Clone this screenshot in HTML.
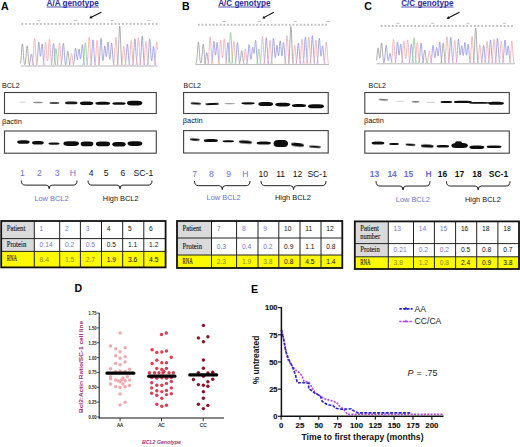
<!DOCTYPE html>
<html><head><meta charset="utf-8"><title>Figure</title>
<style>html,body{margin:0;padding:0;background:#fff;width:520px;height:447px;overflow:hidden}svg{display:block}</style>
</head><body>
<svg width="520" height="447" viewBox="0 0 520 447"><defs><filter id="bl" x="-20%" y="-100%" width="140%" height="300%"><feGaussianBlur stdDeviation="0.45"/></filter></defs><text x="1.0" y="9.6" font-size="10.6" fill="#000" font-weight="bold" text-anchor="start" font-family='"Liberation Sans", sans-serif'  >A</text>
<text x="182.0" y="9.6" font-size="10.6" fill="#000" font-weight="bold" text-anchor="start" font-family='"Liberation Sans", sans-serif'  >B</text>
<text x="364.3" y="9.6" font-size="10.6" fill="#000" font-weight="bold" text-anchor="start" font-family='"Liberation Sans", sans-serif'  >C</text>
<text x="74.4" y="292.4" font-size="10.6" fill="#000" font-weight="bold" text-anchor="start" font-family='"Liberation Sans", sans-serif'  >D</text>
<text x="251.0" y="292.5" font-size="10.6" fill="#000" font-weight="bold" text-anchor="start" font-family='"Liberation Sans", sans-serif'  >E</text>
<text x="46.6" y="6.1" font-size="8.25" fill="#2c2ca0" font-weight="bold" text-anchor="start" font-family='"Liberation Sans", sans-serif'  textLength="52.2" lengthAdjust="spacingAndGlyphs">A/A genotype</text>
<rect x="46.6" y="6.6" width="52.3" height="0.8" fill="#2c2ca0"/>
<text x="218.2" y="6.1" font-size="8.25" fill="#2c2ca0" font-weight="bold" text-anchor="start" font-family='"Liberation Sans", sans-serif'  textLength="52.2" lengthAdjust="spacingAndGlyphs">A/C genotype</text>
<rect x="218.2" y="6.6" width="52.3" height="0.8" fill="#2c2ca0"/>
<text x="401.2" y="6.1" font-size="8.25" fill="#2c2ca0" font-weight="bold" text-anchor="start" font-family='"Liberation Sans", sans-serif'  textLength="52.2" lengthAdjust="spacingAndGlyphs">C/C genotype</text>
<rect x="401.2" y="6.6" width="52.3" height="0.8" fill="#2c2ca0"/>
<line x1="101.3" y1="12.2" x2="91.26" y2="17.30" stroke="#111" stroke-width="1.1"/>
<polygon points="89.3,18.3 91.00,15.59 92.49,18.53" fill="#111"/>
<line x1="273.8" y1="12.2" x2="264.24" y2="17.36" stroke="#111" stroke-width="1.1"/>
<polygon points="262.3,18.4 263.93,15.65 265.50,18.55" fill="#111"/>
<line x1="459.5" y1="12.3" x2="448.56" y2="17.81" stroke="#111" stroke-width="1.1"/>
<polygon points="446.6,18.8 448.31,16.09 449.79,19.04" fill="#111"/>
<line x1="20.5" y1="66.0" x2="157.5" y2="66.0" stroke="#9a9a9a" stroke-width="0.7"/>
<polyline points="29.10,65.35 29.30,65.02 29.50,64.53 29.70,63.82 29.90,62.86 30.10,61.64 30.30,60.21 30.50,58.64 30.70,57.08 30.90,55.69 31.10,54.64 31.30,54.07 31.50,54.07 31.70,54.64 31.90,55.69 32.10,57.08 32.30,58.64 32.50,60.21 32.70,61.64 32.90,62.86 33.10,63.82 33.30,64.53 33.50,65.02 33.70,65.35" fill="none" stroke="#9292de" stroke-width="0.8" stroke-linejoin="round"/>
<polyline points="36.30,65.30 36.50,64.89 36.70,64.24 36.90,63.24 37.10,61.80 37.30,59.87 37.50,57.41 37.70,54.52 37.90,51.36 38.10,48.21 38.30,45.40 38.50,43.27 38.70,42.12 38.90,42.09 39.10,43.16 39.30,45.16 39.50,47.75 39.70,50.52 39.90,53.08 40.10,55.05 40.30,56.17 40.50,56.32 40.70,55.49 40.90,53.81 41.10,51.55 41.30,49.04 41.50,46.68 41.70,44.86 41.90,43.87 42.10,43.91 42.30,44.98 42.50,46.94 42.70,49.54 42.90,52.46 43.10,55.38 43.30,58.05 43.50,60.31 43.70,62.10 43.90,63.43 44.10,64.35 44.30,64.96 44.50,65.34" fill="none" stroke="#9292de" stroke-width="0.8" stroke-linejoin="round"/>
<polyline points="51.10,65.16 51.30,64.67 51.50,63.90 51.70,62.77 51.90,61.19 52.10,59.12 52.30,56.59 52.50,53.72 52.70,50.71 52.90,47.86 53.10,45.51 53.30,43.95 53.50,43.40 53.70,43.95 53.90,45.51 54.10,47.86 54.30,50.71 54.50,53.72 54.70,56.59 54.90,59.12 55.10,61.19 55.30,62.77 55.50,63.90 55.70,64.67 55.90,65.16" fill="none" stroke="#9292de" stroke-width="0.8" stroke-linejoin="round"/>
<polyline points="60.90,65.33 61.10,64.94 61.30,64.33 61.50,63.39 61.70,62.04 61.90,60.21 62.10,57.91 62.30,55.19 62.50,52.21 62.70,49.25 62.90,46.60 63.10,44.61 63.30,43.54 63.50,43.54 63.70,44.61 63.90,46.60 64.10,49.25 64.30,52.21 64.50,55.19 64.70,57.91 64.90,60.21 65.10,62.04 65.30,63.39 65.50,64.33 65.70,64.94 65.90,65.33" fill="none" stroke="#9292de" stroke-width="0.8" stroke-linejoin="round"/>
<polyline points="73.30,65.12 73.50,64.62 73.70,63.87 73.90,62.79 74.10,61.34 74.30,59.49 74.50,57.32 74.70,54.94 74.90,52.57 75.10,50.46 75.30,48.86 75.50,48.00 75.70,47.99 75.90,48.82 76.10,50.37 76.30,52.39 76.50,54.59 76.70,56.68 76.90,58.39 77.10,59.53 77.30,59.97 77.50,59.68 77.70,58.70 77.90,57.16 78.10,55.23 78.30,53.19 78.50,51.30 78.70,49.85 78.90,49.07 79.10,49.06 79.30,49.82 79.50,51.23 79.70,53.06 79.90,55.01 80.10,56.78 80.30,58.09 80.50,58.76 80.70,58.63 80.90,57.70 81.10,56.02 81.30,53.78 81.50,51.23 81.70,48.72 81.90,46.59 82.10,45.17 82.30,44.68 82.50,45.21 82.70,46.68 82.90,48.90 83.10,51.59 83.30,54.42 83.50,57.13 83.70,59.51 83.90,61.45 84.10,62.94 84.30,64.01 84.50,64.74 84.70,65.20" fill="none" stroke="#9292de" stroke-width="0.8" stroke-linejoin="round"/>
<polyline points="90.50,65.25 90.70,64.81 90.90,64.10 91.10,63.01 91.30,61.45 91.50,59.34 91.70,56.67 91.90,53.53 92.10,50.09 92.30,46.66 92.50,43.60 92.70,41.30 92.90,40.06 93.10,40.06 93.30,41.30 93.50,43.60 93.70,46.66 93.90,50.09 94.10,53.53 94.30,56.67 94.50,59.34 94.70,61.45 94.90,63.01 95.10,64.10 95.30,64.81 95.50,65.25" fill="none" stroke="#9292de" stroke-width="0.8" stroke-linejoin="round"/>
<polyline points="98.50,65.22 98.70,64.75 98.90,63.99 99.10,62.84 99.30,61.18 99.50,58.94 99.70,56.11 99.90,52.77 100.10,49.12 100.30,45.48 100.50,42.23 100.70,39.79 100.90,38.47 101.10,38.46 101.30,39.78 101.50,42.21 101.70,45.42 101.90,49.01 102.10,52.55 102.30,55.69 102.50,58.18 102.70,59.87 102.90,60.68 103.10,60.63 103.30,59.76 103.50,58.17 103.70,56.02 103.90,53.52 104.10,50.95 104.30,48.62 104.50,46.85 104.70,45.89 104.90,45.86 105.10,46.75 105.30,48.40 105.50,50.52 105.70,52.76 105.90,54.76 106.10,56.19 106.30,56.82 106.50,56.51 106.70,55.26 106.90,53.21 107.10,50.60 107.30,47.79 107.50,45.18 107.70,43.17 107.90,42.09 108.10,42.11 108.30,43.25 108.50,45.34 108.70,48.08 108.90,51.11 109.10,54.04 109.30,56.54 109.50,58.37 109.70,59.35 109.90,59.41 110.10,58.55 110.30,56.86 110.50,54.49 110.70,51.71 110.90,48.82 111.10,46.20 111.30,44.20 111.50,43.13 111.70,43.14 111.90,44.23 112.10,46.26 112.30,48.95 112.50,51.97 112.70,55.00 112.90,57.77 113.10,60.11 113.30,61.97 113.50,63.34 113.70,64.30 113.90,64.93 114.10,65.32" fill="none" stroke="#9292de" stroke-width="0.8" stroke-linejoin="round"/>
<polyline points="124.90,65.34 125.10,64.97 125.30,64.37 125.50,63.46 125.70,62.15 125.90,60.39 126.10,58.15 126.30,55.52 126.50,52.64 126.70,49.76 126.90,47.20 127.10,45.27 127.30,44.23 127.50,44.23 127.70,45.27 127.90,47.20 128.10,49.76 128.30,52.64 128.50,55.52 128.70,58.15 128.90,60.39 129.10,62.15 129.30,63.46 129.50,64.37 129.70,64.97 129.90,65.34" fill="none" stroke="#9292de" stroke-width="0.8" stroke-linejoin="round"/>
<polyline points="132.30,65.38 132.50,65.03 132.70,64.44 132.90,63.51 133.10,62.15 133.30,60.24 133.50,57.75 133.70,54.70 133.90,51.24 134.10,47.61 134.30,44.18 134.50,41.34 134.70,39.46 134.90,38.80 135.10,39.46 135.30,41.34 135.50,44.18 135.70,47.61 135.90,51.24 136.10,54.70 136.30,57.75 136.50,60.24 136.70,62.15 136.90,63.51 137.10,64.44 137.30,65.03 137.50,65.38" fill="none" stroke="#9292de" stroke-width="0.8" stroke-linejoin="round"/>
<polyline points="139.70,65.17 139.90,64.67 140.10,63.85 140.30,62.60 140.50,60.81 140.70,58.39 140.90,55.34 141.10,51.73 141.30,47.79 141.50,43.85 141.70,40.35 141.90,37.71 142.10,36.28 142.30,36.28 142.50,37.71 142.70,40.35 142.90,43.85 143.10,47.79 143.30,51.73 143.50,55.34 143.70,58.39 143.90,60.81 144.10,62.60 144.30,63.85 144.50,64.67 144.70,65.17" fill="none" stroke="#9292de" stroke-width="0.8" stroke-linejoin="round"/>
<polyline points="147.10,65.38 147.30,65.03 147.50,64.44 147.70,63.51 147.90,62.15 148.10,60.24 148.30,57.75 148.50,54.70 148.70,51.24 148.90,47.61 149.10,44.18 149.30,41.34 149.50,39.46 149.70,38.80 149.90,39.45 150.10,41.32 150.30,44.15 150.50,47.54 150.70,51.08 150.90,54.40 151.10,57.19 151.30,59.26 151.50,60.50 151.70,60.88 151.90,60.42 152.10,59.21 152.30,57.37 152.50,55.07 152.70,52.56 152.90,50.14 153.10,48.11 153.30,46.77 153.50,46.30 153.70,46.77 153.90,48.13 154.10,50.19 154.30,52.66 154.50,55.28 154.70,57.78 154.90,59.98 155.10,61.78 155.30,63.16 155.50,64.15 155.70,64.82 155.90,65.24" fill="none" stroke="#9292de" stroke-width="0.8" stroke-linejoin="round"/>
<polyline points="32.10,65.22 32.30,64.75 32.50,63.99 32.70,62.84 32.90,61.18 33.10,58.94 33.30,56.11 33.50,52.77 33.70,49.12 33.90,45.48 34.10,42.23 34.30,39.79 34.50,38.47 34.70,38.47 34.90,39.79 35.10,42.23 35.30,45.48 35.50,49.12 35.70,52.77 35.90,56.11 36.10,58.94 36.30,61.18 36.50,62.84 36.70,63.99 36.90,64.75 37.10,65.22" fill="none" stroke="#eeaaae" stroke-width="0.8" stroke-linejoin="round"/>
<polyline points="43.10,65.12 43.30,64.60 43.50,63.79 43.70,62.58 43.90,60.90 44.10,58.70 44.30,56.02 44.50,52.96 44.70,49.77 44.90,46.74 45.10,44.24 45.30,42.58 45.50,42.00 45.70,42.57 45.90,44.22 46.10,46.71 46.30,49.70 46.50,52.81 46.70,55.72 46.90,58.14 47.10,59.88 47.30,60.83 47.50,60.92 47.70,60.13 47.90,58.49 48.10,56.06 48.30,53.01 48.50,49.57 48.70,46.10 48.90,42.98 49.10,40.63 49.30,39.36 49.50,39.36 49.70,40.64 49.90,43.00 50.10,46.14 50.30,49.67 50.50,53.20 50.70,56.43 50.90,59.17 51.10,61.33 51.30,62.94 51.50,64.05 51.70,64.78 51.90,65.24" fill="none" stroke="#eeaaae" stroke-width="0.8" stroke-linejoin="round"/>
<polyline points="57.10,65.15 57.30,64.65 57.50,63.87 57.70,62.71 57.90,61.10 58.10,59.00 58.30,56.43 58.50,53.50 58.70,50.44 58.90,47.54 59.10,45.14 59.30,43.56 59.50,43.00 59.70,43.56 59.90,45.14 60.10,47.54 60.30,50.44 60.50,53.50 60.70,56.43 60.90,59.00 61.10,61.10 61.30,62.71 61.50,63.87 61.70,64.65 61.90,65.15" fill="none" stroke="#eeaaae" stroke-width="0.8" stroke-linejoin="round"/>
<polyline points="69.30,65.17 69.50,64.74 69.70,64.11 69.90,63.23 70.10,62.07 70.30,60.66 70.50,59.06 70.70,57.38 70.90,55.79 71.10,54.48 71.30,53.60 71.50,53.30 71.70,53.60 71.90,54.48 72.10,55.79 72.30,57.38 72.50,59.06 72.70,60.66 72.90,62.07 73.10,63.23 73.30,64.11 73.50,64.74 73.70,65.17" fill="none" stroke="#eeaaae" stroke-width="0.8" stroke-linejoin="round"/>
<polyline points="86.70,65.20 86.90,64.71 87.10,63.92 87.30,62.72 87.50,61.00 87.70,58.67 87.90,55.72 88.10,52.25 88.30,48.45 88.50,44.66 88.70,41.29 88.90,38.75 89.10,37.38 89.30,37.38 89.50,38.75 89.70,41.29 89.90,44.66 90.10,48.45 90.30,52.25 90.50,55.72 90.70,58.67 90.90,61.00 91.10,62.72 91.30,63.92 91.50,64.71 91.70,65.20" fill="none" stroke="#eeaaae" stroke-width="0.8" stroke-linejoin="round"/>
<polyline points="94.70,65.07 94.90,64.52 95.10,63.65 95.30,62.36 95.50,60.57 95.70,58.22 95.90,55.36 96.10,52.10 96.30,48.69 96.50,45.46 96.70,42.79 96.90,41.02 97.10,40.40 97.30,41.02 97.50,42.79 97.70,45.46 97.90,48.69 98.10,52.10 98.30,55.36 98.50,58.22 98.70,60.57 98.90,62.36 99.10,63.65 99.30,64.52 99.50,65.07" fill="none" stroke="#eeaaae" stroke-width="0.8" stroke-linejoin="round"/>
<polyline points="113.30,65.36 113.50,64.98 113.70,64.36 113.90,63.38 114.10,61.93 114.30,59.91 114.50,57.27 114.70,54.04 114.90,50.37 115.10,46.53 115.30,42.90 115.50,39.89 115.70,37.90 115.90,37.20 116.10,37.90 116.30,39.89 116.50,42.90 116.70,46.53 116.90,50.37 117.10,54.04 117.30,57.27 117.50,59.91 117.70,61.93 117.90,63.38 118.10,64.36 118.30,64.98 118.50,65.36" fill="none" stroke="#eeaaae" stroke-width="0.8" stroke-linejoin="round"/>
<polyline points="121.30,65.24 121.50,64.82 121.70,64.15 121.90,63.16 122.10,61.78 122.30,59.98 122.50,57.78 122.70,55.28 122.90,52.66 123.10,50.19 123.30,48.13 123.50,46.78 123.70,46.30 123.90,46.78 124.10,48.13 124.30,50.19 124.50,52.66 124.70,55.28 124.90,57.78 125.10,59.98 125.30,61.78 125.50,63.16 125.70,64.15 125.90,64.82 126.10,65.24" fill="none" stroke="#eeaaae" stroke-width="0.8" stroke-linejoin="round"/>
<polyline points="128.70,65.26 128.90,64.83 129.10,64.13 129.30,63.06 129.50,61.53 129.70,59.47 129.90,56.85 130.10,53.76 130.30,50.39 130.50,47.03 130.70,44.03 130.90,41.77 131.10,40.56 131.30,40.56 131.50,41.77 131.70,44.03 131.90,47.03 132.10,50.39 132.30,53.76 132.50,56.85 132.70,59.47 132.90,61.53 133.10,63.06 133.30,64.13 133.50,64.83 133.70,65.26" fill="none" stroke="#eeaaae" stroke-width="0.8" stroke-linejoin="round"/>
<polyline points="135.90,65.21 136.10,64.73 136.30,63.95 136.50,62.77 136.70,61.08 136.90,58.79 137.10,55.90 137.30,52.49 137.50,48.76 137.70,45.03 137.90,41.72 138.10,39.22 138.30,37.87 138.50,37.87 138.70,39.22 138.90,41.72 139.10,45.03 139.30,48.76 139.50,52.49 139.70,55.90 139.90,58.79 140.10,61.08 140.30,62.77 140.50,63.95 140.70,64.73 140.90,65.21" fill="none" stroke="#eeaaae" stroke-width="0.8" stroke-linejoin="round"/>
<polyline points="143.50,65.11 143.70,64.58 143.90,63.74 144.10,62.51 144.30,60.80 144.50,58.55 144.70,55.81 144.90,52.69 145.10,49.43 145.30,46.34 145.50,43.79 145.70,42.09 145.90,41.50 146.10,42.09 146.30,43.79 146.50,46.34 146.70,49.43 146.90,52.69 147.10,55.81 147.30,58.55 147.50,60.80 147.70,62.51 147.90,63.74 148.10,64.58 148.30,65.11" fill="none" stroke="#eeaaae" stroke-width="0.8" stroke-linejoin="round"/>
<polyline points="154.30,65.12 154.50,64.60 154.70,63.79 154.90,62.58 155.10,60.90 155.30,58.70 155.50,56.02 155.70,52.96 155.90,49.77 156.10,46.74 156.30,44.24 156.50,42.58 156.70,42.00 156.90,42.58 157.10,44.24 157.30,46.74 157.50,49.77" fill="none" stroke="#eeaaae" stroke-width="0.8" stroke-linejoin="round"/>
<polyline points="53.50,65.31 53.70,64.93 53.90,64.34 54.10,63.46 54.30,62.24 54.50,60.64 54.70,58.69 54.90,56.47 55.10,54.15 55.30,51.95 55.50,50.13 55.70,48.92 55.90,48.50 56.10,48.92 56.30,50.13 56.50,51.95 56.70,54.15 56.90,56.47 57.10,58.69 57.30,60.64 57.50,62.24 57.70,63.46 57.90,64.34 58.10,64.93 58.30,65.31" fill="none" stroke="#8acb8a" stroke-width="0.8" stroke-linejoin="round"/>
<polyline points="82.90,65.14 83.10,64.63 83.30,63.84 83.50,62.66 83.70,61.02 83.90,58.88 84.10,56.26 84.30,53.29 84.50,50.17 84.70,47.22 84.90,44.78 85.10,43.17 85.30,42.60 85.50,43.17 85.70,44.78 85.90,47.22 86.10,50.17 86.30,53.29 86.50,56.26 86.70,58.88 86.90,61.02 87.10,62.66 87.30,63.84 87.50,64.63 87.70,65.14" fill="none" stroke="#8acb8a" stroke-width="0.8" stroke-linejoin="round"/>
<polyline points="20.50,63.43 20.70,62.10 20.90,60.31 21.10,58.05 21.30,55.38 21.50,52.46 21.70,49.54 21.90,46.95 22.10,44.99 22.30,43.94 22.50,43.94 22.70,44.99 22.90,46.95 23.10,49.54 23.30,52.45 23.50,55.37 23.70,58.04 23.90,60.29 24.10,62.05 24.30,63.32 24.50,64.13 24.70,64.54 24.90,64.57 25.10,64.23 25.30,63.51 25.50,62.37 25.70,60.76 25.90,58.71 26.10,56.27 26.30,53.61 26.50,50.95 26.70,48.57 26.90,46.79 27.10,45.82 27.30,45.82 27.50,46.79 27.70,48.57 27.90,50.95 28.10,53.61 28.30,56.28 28.50,58.72 28.70,60.79 28.90,62.42 29.10,63.64 29.30,64.48 29.50,65.03 29.70,65.38" fill="none" stroke="#999999" stroke-width="0.8" stroke-linejoin="round"/>
<polyline points="65.50,65.24 65.70,64.83 65.90,64.22 66.10,63.33 66.30,62.13 66.50,60.62 66.70,58.83 66.90,56.88 67.10,54.94 67.30,53.20 67.50,51.89 67.70,51.19 67.90,51.19 68.10,51.89 68.30,53.20 68.50,54.94 68.70,56.88 68.90,58.83 69.10,60.62 69.30,62.13 69.50,63.33 69.70,64.22 69.90,64.83 70.10,65.24" fill="none" stroke="#999999" stroke-width="0.8" stroke-linejoin="round"/>
<polyline points="117.10,65.19 117.30,64.66 117.50,63.79 117.70,62.42 117.90,60.40 118.10,57.58 118.30,53.90 118.50,49.40 118.70,44.28 118.90,38.92 119.10,33.85 119.30,29.65 119.50,26.87 119.70,25.90 119.90,26.87 120.10,29.65 120.30,33.85 120.50,38.92 120.70,44.28 120.90,49.40 121.10,53.90 121.30,57.58 121.50,60.40 121.70,62.42 121.90,63.79 122.10,64.66 122.30,65.19" fill="none" stroke="#999999" stroke-width="0.8" stroke-linejoin="round"/>
<rect x="21.45" y="22.90" width="1.7" height="2.0" fill="#bdbdbd"/>
<rect x="25.18" y="22.90" width="1.7" height="2.0" fill="#bdbdbd"/>
<rect x="28.91" y="22.90" width="1.7" height="2.0" fill="#bdbdbd"/>
<rect x="32.63" y="22.90" width="1.7" height="2.0" fill="#bdbdbd"/>
<rect x="36.36" y="22.90" width="1.7" height="2.0" fill="#bdbdbd"/>
<rect x="40.09" y="22.90" width="1.7" height="2.0" fill="#bdbdbd"/>
<rect x="43.82" y="22.90" width="1.7" height="2.0" fill="#bdbdbd"/>
<rect x="47.54" y="22.90" width="1.7" height="2.0" fill="#bdbdbd"/>
<rect x="51.27" y="22.90" width="1.7" height="2.0" fill="#bdbdbd"/>
<rect x="55.00" y="22.90" width="1.7" height="2.0" fill="#bdbdbd"/>
<rect x="58.73" y="22.90" width="1.7" height="2.0" fill="#bdbdbd"/>
<rect x="62.46" y="22.90" width="1.7" height="2.0" fill="#bdbdbd"/>
<rect x="66.18" y="22.90" width="1.7" height="2.0" fill="#bdbdbd"/>
<rect x="69.91" y="22.90" width="1.7" height="2.0" fill="#bdbdbd"/>
<rect x="73.64" y="22.90" width="1.7" height="2.0" fill="#bdbdbd"/>
<rect x="77.37" y="22.90" width="1.7" height="2.0" fill="#bdbdbd"/>
<rect x="81.09" y="22.90" width="1.7" height="2.0" fill="#bdbdbd"/>
<rect x="84.82" y="22.90" width="1.7" height="2.0" fill="#bdbdbd"/>
<rect x="88.55" y="22.90" width="1.7" height="2.0" fill="#bdbdbd"/>
<rect x="92.28" y="22.90" width="1.7" height="2.0" fill="#bdbdbd"/>
<rect x="96.01" y="22.90" width="1.7" height="2.0" fill="#bdbdbd"/>
<rect x="99.73" y="22.90" width="1.7" height="2.0" fill="#bdbdbd"/>
<rect x="103.46" y="22.90" width="1.7" height="2.0" fill="#bdbdbd"/>
<rect x="107.19" y="22.90" width="1.7" height="2.0" fill="#bdbdbd"/>
<rect x="110.92" y="22.90" width="1.7" height="2.0" fill="#bdbdbd"/>
<rect x="114.64" y="22.90" width="1.7" height="2.0" fill="#bdbdbd"/>
<rect x="118.37" y="22.90" width="1.7" height="2.0" fill="#bdbdbd"/>
<rect x="122.10" y="22.90" width="1.7" height="2.0" fill="#bdbdbd"/>
<rect x="125.83" y="22.90" width="1.7" height="2.0" fill="#bdbdbd"/>
<rect x="129.56" y="22.90" width="1.7" height="2.0" fill="#bdbdbd"/>
<rect x="133.28" y="22.90" width="1.7" height="2.0" fill="#bdbdbd"/>
<rect x="137.01" y="22.90" width="1.7" height="2.0" fill="#bdbdbd"/>
<rect x="140.74" y="22.90" width="1.7" height="2.0" fill="#bdbdbd"/>
<rect x="144.47" y="22.90" width="1.7" height="2.0" fill="#bdbdbd"/>
<rect x="148.19" y="22.90" width="1.7" height="2.0" fill="#bdbdbd"/>
<rect x="151.92" y="22.90" width="1.7" height="2.0" fill="#bdbdbd"/>
<rect x="155.65" y="22.90" width="1.7" height="2.0" fill="#bdbdbd"/>
<rect x="37.20" y="20.45" width="3.2" height="0.7" fill="#aaaaaa"/>
<rect x="73.90" y="20.25" width="3.2" height="0.7" fill="#aaaaaa"/>
<rect x="110.40" y="20.25" width="3.2" height="0.7" fill="#aaaaaa"/>
<rect x="147.20" y="20.25" width="3.2" height="0.7" fill="#aaaaaa"/>
<line x1="195.5" y1="64.60000000000001" x2="329" y2="64.60000000000001" stroke="#9a9a9a" stroke-width="0.7"/>
<polyline points="204.50,63.81 204.70,63.41 204.90,62.82 205.10,61.99 205.30,60.91 205.50,59.59 205.70,58.09 205.90,56.52 206.10,55.03 206.30,53.80 206.50,52.99 206.70,52.70 206.90,52.99 207.10,53.80 207.30,55.03 207.50,56.52 207.70,58.09 207.90,59.59 208.10,60.91 208.30,61.99 208.50,62.82 208.70,63.41 208.90,63.81" fill="none" stroke="#9292de" stroke-width="0.8" stroke-linejoin="round"/>
<polyline points="211.50,63.75 211.70,63.25 211.90,62.46 212.10,61.30 212.30,59.68 212.50,57.57 212.70,54.99 212.90,52.05 213.10,48.97 213.30,46.06 213.50,43.65 213.70,42.04 213.90,41.46 214.10,41.97 214.30,43.48 214.50,45.73 214.70,48.35 214.90,50.94 215.10,53.13 215.30,54.61 215.50,55.17 215.70,54.77 215.90,53.46 216.10,51.43 216.30,48.99 216.50,46.51 216.70,44.38 216.90,42.95 217.10,42.46 217.30,43.02 217.50,44.55 217.70,46.86 217.90,49.65 218.10,52.59 218.30,55.40 218.50,57.87 218.70,59.89 218.90,61.44 219.10,62.55 219.30,63.30 219.50,63.77" fill="none" stroke="#9292de" stroke-width="0.8" stroke-linejoin="round"/>
<polyline points="225.50,63.77 225.70,63.30 225.90,62.55 226.10,61.44 226.30,59.89 226.50,57.87 226.70,55.40 226.90,52.59 227.10,49.65 227.30,46.86 227.50,44.56 227.70,43.03 227.90,42.50 228.10,43.03 228.30,44.56 228.50,46.86 228.70,49.65 228.90,52.59 229.10,55.40 229.30,57.87 229.50,59.89 229.70,61.44 229.90,62.55 230.10,63.30 230.30,63.77" fill="none" stroke="#9292de" stroke-width="0.8" stroke-linejoin="round"/>
<polyline points="235.10,63.77 235.30,63.30 235.50,62.55 235.70,61.44 235.90,59.89 236.10,57.87 236.30,55.40 236.50,52.59 236.70,49.65 236.90,46.86 237.10,44.56 237.30,43.03 237.50,42.50 237.70,43.03 237.90,44.56 238.10,46.86 238.30,49.65 238.50,52.59 238.70,55.40 238.90,57.87 239.10,59.89 239.30,61.44 239.50,62.55 239.70,63.30 239.90,63.77" fill="none" stroke="#9292de" stroke-width="0.8" stroke-linejoin="round"/>
<polyline points="246.70,63.84 246.90,63.41 247.10,62.73 247.30,61.73 247.50,60.34 247.70,58.52 247.90,56.30 248.10,53.77 248.30,51.13 248.50,48.63 248.70,46.55 248.90,45.18 249.10,44.69 249.30,45.17 249.50,46.52 249.70,48.56 249.90,50.99 250.10,53.51 250.30,55.82 250.50,57.67 250.70,58.90 250.90,59.43 251.10,59.23 251.30,58.34 251.50,56.85 251.70,54.92 251.90,52.79 252.10,50.70 252.30,48.93 252.50,47.74 252.70,47.26 252.90,47.55 253.10,48.49 253.30,49.87 253.50,51.37 253.70,52.65 253.90,53.38 254.10,53.35 254.30,52.44 254.50,50.73 254.70,48.40 254.90,45.81 255.10,43.35 255.30,41.44 255.50,40.41 255.70,40.48 255.90,41.67 256.10,43.82 256.30,46.66 256.50,49.84 256.70,53.03 256.90,55.94 257.10,58.42 257.30,60.37 257.50,61.82 257.70,62.82 257.90,63.48 258.10,63.89" fill="none" stroke="#9292de" stroke-width="0.8" stroke-linejoin="round"/>
<polyline points="263.70,63.99 263.90,63.64 264.10,63.05 264.30,62.14 264.50,60.79 264.70,58.90 264.90,56.44 265.10,53.42 265.30,50.00 265.50,46.41 265.70,43.02 265.90,40.21 266.10,38.35 266.30,37.70 266.50,38.35 266.70,40.21 266.90,43.02 267.10,46.41 267.30,50.00 267.50,53.42 267.70,56.44 267.90,58.90 268.10,60.79 268.30,62.14 268.50,63.05 268.70,63.64 268.90,63.99" fill="none" stroke="#9292de" stroke-width="0.8" stroke-linejoin="round"/>
<polyline points="270.90,64.00 271.10,63.65 271.30,63.08 271.50,62.18 271.70,60.85 271.90,59.00 272.10,56.59 272.30,53.63 272.50,50.27 272.70,46.75 272.90,43.42 273.10,40.66 273.30,38.83 273.50,38.19 273.70,38.82 273.90,40.61 274.10,43.31 274.30,46.54 274.50,49.86 274.70,52.90 274.90,55.32 275.10,56.94 275.30,57.63 275.50,57.39 275.70,56.31 275.90,54.55 276.10,52.35 276.30,50.00 276.50,47.84 276.70,46.18 276.90,45.27 277.10,45.25 277.30,46.10 277.50,47.68 277.70,49.71 277.90,51.86 278.10,53.76 278.30,55.10 278.50,55.67 278.70,55.32 278.90,54.05 279.10,52.00 279.30,49.41 279.50,46.63 279.70,44.04 279.90,42.06 280.10,40.98 280.30,40.98 280.50,42.08 280.70,44.08 280.90,46.69 281.10,49.52 281.30,52.16 281.50,54.27 281.70,55.58 281.90,55.94 282.10,55.34 282.30,53.85 282.50,51.69 282.70,49.15 282.90,46.60 283.10,44.43 283.30,42.97 283.50,42.47 283.70,43.02 283.90,44.55 284.10,46.86 284.30,49.65 284.50,52.59 284.70,55.40 284.90,57.87 285.10,59.89 285.30,61.44 285.50,62.55 285.70,63.30 285.90,63.77" fill="none" stroke="#9292de" stroke-width="0.8" stroke-linejoin="round"/>
<polyline points="295.90,63.95 296.10,63.58 296.30,62.99 296.50,62.10 296.70,60.81 296.90,59.06 297.10,56.86 297.30,54.26 297.50,51.42 297.70,48.59 297.90,46.06 298.10,44.16 298.30,43.13 298.50,43.13 298.70,44.16 298.90,46.06 299.10,48.59 299.30,51.42 299.50,54.26 299.70,56.86 299.90,59.06 300.10,60.81 300.30,62.10 300.50,62.99 300.70,63.58 300.90,63.95" fill="none" stroke="#9292de" stroke-width="0.8" stroke-linejoin="round"/>
<polyline points="302.90,63.83 303.10,63.36 303.30,62.61 303.50,61.47 303.70,59.83 303.90,57.62 304.10,54.82 304.30,51.51 304.50,47.90 304.70,44.30 304.90,41.09 305.10,38.67 305.30,37.37 305.50,37.37 305.70,38.67 305.90,41.09 306.10,44.30 306.30,47.90 306.50,51.51 306.70,54.82 306.90,57.62 307.10,59.83 307.30,61.47 307.50,62.61 307.70,63.36 307.90,63.83" fill="none" stroke="#9292de" stroke-width="0.8" stroke-linejoin="round"/>
<polyline points="309.90,63.79 310.10,63.30 310.30,62.51 310.50,61.30 310.70,59.56 310.90,57.22 311.10,54.25 311.30,50.75 311.50,46.93 311.70,43.12 311.90,39.72 312.10,37.16 312.30,35.78 312.50,35.78 312.70,37.16 312.90,39.72 313.10,43.12 313.30,46.93 313.50,50.75 313.70,54.25 313.90,57.22 314.10,59.56 314.30,61.30 314.50,62.51 314.70,63.30 314.90,63.79" fill="none" stroke="#9292de" stroke-width="0.8" stroke-linejoin="round"/>
<polyline points="316.70,64.00 316.90,63.65 317.10,63.08 317.30,62.18 317.50,60.85 317.70,59.00 317.90,56.59 318.10,53.63 318.30,50.27 318.50,46.75 318.70,43.42 318.90,40.66 319.10,38.83 319.30,38.18 319.50,38.79 319.70,40.56 319.90,43.21 320.10,46.36 320.30,49.56 320.50,52.41 320.70,54.58 320.90,55.88 321.10,56.22 321.30,55.63 321.50,54.27 321.70,52.37 321.90,50.25 322.10,48.25 322.30,46.70 322.50,45.87 322.70,45.89 322.90,46.80 323.10,48.46 323.30,50.65 323.50,53.12 323.70,55.59 323.90,57.85 324.10,59.76 324.30,61.28 324.50,62.40 324.70,63.18 324.90,63.69" fill="none" stroke="#9292de" stroke-width="0.8" stroke-linejoin="round"/>
<polyline points="207.70,63.81 207.90,63.34 208.10,62.57 208.30,61.41 208.50,59.73 208.70,57.47 208.90,54.61 209.10,51.23 209.30,47.54 209.50,43.86 209.70,40.58 209.90,38.10 210.10,36.77 210.30,36.77 210.50,38.10 210.70,40.58 210.90,43.86 211.10,47.54 211.30,51.23 211.50,54.61 211.70,57.47 211.90,59.73 212.10,61.41 212.30,62.57 212.50,63.34 212.70,63.81" fill="none" stroke="#eeaaae" stroke-width="0.8" stroke-linejoin="round"/>
<polyline points="218.30,63.70 218.50,63.17 218.70,62.33 218.90,61.08 219.10,59.35 219.30,57.09 219.50,54.33 219.70,51.18 219.90,47.90 220.10,44.78 220.30,42.20 220.50,40.49 220.70,39.89 220.90,40.48 221.10,42.16 221.30,44.68 221.50,47.69 221.70,50.79 221.90,53.60 222.10,55.80 222.30,57.19 222.50,57.62 222.70,57.05 222.90,55.53 223.10,53.18 223.30,50.21 223.50,46.96 223.70,43.81 223.90,41.16 224.10,39.40 224.30,38.79 224.50,39.42 224.70,41.21 224.90,43.90 225.10,47.15 225.30,50.59 225.50,53.88 225.70,56.77 225.90,59.13 226.10,60.94 226.30,62.23 226.50,63.11 226.70,63.67" fill="none" stroke="#eeaaae" stroke-width="0.8" stroke-linejoin="round"/>
<polyline points="231.30,63.92 231.50,63.53 231.70,62.89 231.90,61.93 232.10,60.55 232.30,58.69 232.50,56.33 232.70,53.55 232.90,50.51 233.10,47.48 233.30,44.77 233.50,42.74 233.70,41.64 233.90,41.64 234.10,42.74 234.30,44.77 234.50,47.48 234.70,50.51 234.90,53.55 235.10,56.33 235.30,58.69 235.50,60.55 235.70,61.93 235.90,62.89 236.10,63.53 236.30,63.92" fill="none" stroke="#eeaaae" stroke-width="0.8" stroke-linejoin="round"/>
<polyline points="243.10,63.81 243.30,63.39 243.50,62.74 243.70,61.81 243.90,60.56 244.10,58.97 244.30,57.10 244.50,55.06 244.70,53.02 244.90,51.20 245.10,49.83 245.30,49.09 245.50,49.09 245.70,49.83 245.90,51.20 246.10,53.02 246.30,55.06 246.50,57.10 246.70,58.97 246.90,60.56 247.10,61.81 247.30,62.74 247.50,63.39 247.70,63.81" fill="none" stroke="#eeaaae" stroke-width="0.8" stroke-linejoin="round"/>
<polyline points="259.90,63.96 260.10,63.59 260.30,62.97 260.50,62.00 260.70,60.57 260.90,58.57 261.10,55.96 261.30,52.77 261.50,49.13 261.70,45.34 261.90,41.74 262.10,38.76 262.30,36.79 262.50,36.10 262.70,36.79 262.90,38.76 263.10,41.74 263.30,45.34 263.50,49.13 263.70,52.77 263.90,55.96 264.10,58.57 264.30,60.57 264.50,62.00 264.70,62.97 264.90,63.59 265.10,63.96" fill="none" stroke="#eeaaae" stroke-width="0.8" stroke-linejoin="round"/>
<polyline points="267.50,63.89 267.70,63.48 267.90,62.82 268.10,61.82 268.30,60.37 268.50,58.42 268.70,55.94 268.90,53.03 269.10,49.84 269.30,46.66 269.50,43.83 269.70,41.70 269.90,40.55 270.10,40.55 270.30,41.70 270.50,43.83 270.70,46.66 270.90,49.84 271.10,53.03 271.30,55.94 271.50,58.42 271.70,60.37 271.90,61.82 272.10,62.82 272.30,63.48 272.50,63.89" fill="none" stroke="#eeaaae" stroke-width="0.8" stroke-linejoin="round"/>
<polyline points="284.50,63.96 284.70,63.58 284.90,62.95 285.10,61.96 285.30,60.50 285.50,58.47 285.70,55.81 285.90,52.56 286.10,48.87 286.30,45.00 286.50,41.34 286.70,38.31 286.90,36.30 287.10,35.60 287.30,36.30 287.50,38.31 287.70,41.34 287.90,45.00 288.10,48.87 288.30,52.56 288.50,55.81 288.70,58.47 288.90,60.50 289.10,61.96 289.30,62.95 289.50,63.58 289.70,63.96" fill="none" stroke="#eeaaae" stroke-width="0.8" stroke-linejoin="round"/>
<polyline points="292.30,63.85 292.50,63.43 292.70,62.77 292.90,61.80 293.10,60.45 293.30,58.67 293.50,56.51 293.70,54.04 293.90,51.47 294.10,49.03 294.30,47.01 294.50,45.67 294.70,45.20 294.90,45.67 295.10,47.01 295.30,49.03 295.50,51.47 295.70,54.04 295.90,56.51 296.10,58.67 296.30,60.45 296.50,61.80 296.70,62.77 296.90,63.43 297.10,63.85" fill="none" stroke="#eeaaae" stroke-width="0.8" stroke-linejoin="round"/>
<polyline points="299.50,63.87 299.70,63.44 299.90,62.75 300.10,61.70 300.30,60.18 300.50,58.14 300.70,55.56 300.90,52.51 301.10,49.18 301.30,45.85 301.50,42.89 301.70,40.66 301.90,39.45 302.10,39.45 302.30,40.66 302.50,42.89 302.70,45.85 302.90,49.18 303.10,52.51 303.30,55.56 303.50,58.14 303.70,60.18 303.90,61.70 304.10,62.75 304.30,63.44 304.50,63.87" fill="none" stroke="#eeaaae" stroke-width="0.8" stroke-linejoin="round"/>
<polyline points="306.30,63.83 306.50,63.36 306.70,62.61 306.90,61.47 307.10,59.83 307.30,57.62 307.50,54.82 307.70,51.51 307.90,47.90 308.10,44.30 308.30,41.09 308.50,38.67 308.70,37.37 308.90,37.37 309.10,38.67 309.30,41.09 309.50,44.30 309.70,47.90 309.90,51.51 310.10,54.82 310.30,57.62 310.50,59.83 310.70,61.47 310.90,62.61 311.10,63.36 311.30,63.83" fill="none" stroke="#eeaaae" stroke-width="0.8" stroke-linejoin="round"/>
<polyline points="313.50,63.70 313.70,63.17 313.90,62.33 314.10,61.08 314.30,59.35 314.50,57.09 314.70,54.33 314.90,51.18 315.10,47.90 315.30,44.78 315.50,42.20 315.70,40.50 315.90,39.90 316.10,40.50 316.30,42.20 316.50,44.78 316.70,47.90 316.90,51.18 317.10,54.33 317.30,57.09 317.50,59.35 317.70,61.08 317.90,62.33 318.10,63.17 318.30,63.70" fill="none" stroke="#eeaaae" stroke-width="0.8" stroke-linejoin="round"/>
<polyline points="323.90,63.76 324.10,63.27 324.30,62.50 324.50,61.37 324.70,59.79 324.90,57.72 325.10,55.19 325.30,52.32 325.50,49.31 325.70,46.46 325.90,44.11 326.10,42.55 326.30,42.00 326.50,42.55 326.70,44.11 326.90,46.46 327.10,49.31 327.30,52.32 327.50,55.19 327.70,57.72 327.90,59.79 328.10,61.37 328.30,62.50 328.50,63.27 328.70,63.76" fill="none" stroke="#eeaaae" stroke-width="0.8" stroke-linejoin="round"/>
<polyline points="228.10,63.72 228.30,63.17 228.50,62.29 228.70,60.94 228.90,59.01 229.10,56.40 229.30,53.09 229.50,49.19 229.70,44.93 229.90,40.68 230.10,36.89 230.30,34.03 230.50,32.50 230.70,32.50 230.90,34.03 231.10,36.89 231.30,40.68 231.50,44.93 231.70,49.19 231.90,53.09 232.10,56.40 232.30,59.01 232.50,60.94 232.70,62.29 232.90,63.17 233.10,63.72" fill="none" stroke="#8acb8a" stroke-width="0.8" stroke-linejoin="round"/>
<polyline points="256.50,63.81 256.70,63.39 256.90,62.74 257.10,61.81 257.30,60.56 257.50,58.97 257.70,57.10 257.90,55.06 258.10,53.02 258.30,51.20 258.50,49.83 258.70,49.09 258.90,49.09 259.10,49.83 259.30,51.20 259.50,53.02 259.70,55.06 259.90,57.10 260.10,58.97 260.30,60.56 260.50,61.81 260.70,62.74 260.90,63.39 261.10,63.81" fill="none" stroke="#8acb8a" stroke-width="0.8" stroke-linejoin="round"/>
<polyline points="195.90,63.93 196.10,63.54 196.30,62.93 196.50,61.99 196.70,60.64 196.90,58.81 197.10,56.51 197.30,53.79 197.50,50.81 197.70,47.85 197.90,45.20 198.10,43.21 198.30,42.14 198.50,42.14 198.70,43.21 198.90,45.20 199.10,47.85 199.30,50.81 199.50,53.78 199.70,56.50 199.90,58.79 200.10,60.58 200.30,61.87 200.50,62.70 200.70,63.12 200.90,63.15 201.10,62.82 201.30,62.09 201.50,60.93 201.70,59.31 201.90,57.24 202.10,54.78 202.30,52.09 202.50,49.40 202.70,47.00 202.90,45.20 203.10,44.22 203.30,44.22 203.50,45.20 203.70,47.00 203.90,49.40 204.10,52.09 204.30,54.78 204.50,57.25 204.70,59.34 204.90,60.99 205.10,62.21 205.30,63.07 205.50,63.62 205.70,63.97" fill="none" stroke="#999999" stroke-width="0.8" stroke-linejoin="round"/>
<polyline points="239.50,63.70 239.70,63.23 239.90,62.53 240.10,61.56 240.30,60.28 240.50,58.73 240.70,56.96 240.90,55.10 241.10,53.35 241.30,51.90 241.50,50.94 241.70,50.60 241.90,50.94 242.10,51.90 242.30,53.35 242.50,55.10 242.70,56.96 242.90,58.73 243.10,60.28 243.30,61.56 243.50,62.53 243.70,63.23 243.90,63.70" fill="none" stroke="#999999" stroke-width="0.8" stroke-linejoin="round"/>
<polyline points="288.30,63.81 288.50,63.31 288.70,62.48 288.90,61.18 289.10,59.26 289.30,56.57 289.50,53.07 289.70,48.78 289.90,43.90 290.10,38.80 290.30,33.97 290.50,29.97 290.70,27.33 290.90,26.40 291.10,27.33 291.30,29.97 291.50,33.97 291.70,38.80 291.90,43.90 292.10,48.78 292.30,53.07 292.50,56.57 292.70,59.26 292.90,61.18 293.10,62.48 293.30,63.31 293.50,63.81" fill="none" stroke="#999999" stroke-width="0.8" stroke-linejoin="round"/>
<rect x="197.95" y="23.80" width="1.7" height="2.0" fill="#bdbdbd"/>
<rect x="201.59" y="23.80" width="1.7" height="2.0" fill="#bdbdbd"/>
<rect x="205.24" y="23.80" width="1.7" height="2.0" fill="#bdbdbd"/>
<rect x="208.88" y="23.80" width="1.7" height="2.0" fill="#bdbdbd"/>
<rect x="212.52" y="23.80" width="1.7" height="2.0" fill="#bdbdbd"/>
<rect x="216.16" y="23.80" width="1.7" height="2.0" fill="#bdbdbd"/>
<rect x="219.81" y="23.80" width="1.7" height="2.0" fill="#bdbdbd"/>
<rect x="223.45" y="23.80" width="1.7" height="2.0" fill="#bdbdbd"/>
<rect x="227.09" y="23.80" width="1.7" height="2.0" fill="#bdbdbd"/>
<rect x="230.74" y="23.80" width="1.7" height="2.0" fill="#bdbdbd"/>
<rect x="234.38" y="23.80" width="1.7" height="2.0" fill="#bdbdbd"/>
<rect x="238.02" y="23.80" width="1.7" height="2.0" fill="#bdbdbd"/>
<rect x="241.66" y="23.80" width="1.7" height="2.0" fill="#bdbdbd"/>
<rect x="245.31" y="23.80" width="1.7" height="2.0" fill="#bdbdbd"/>
<rect x="248.95" y="23.80" width="1.7" height="2.0" fill="#bdbdbd"/>
<rect x="252.59" y="23.80" width="1.7" height="2.0" fill="#bdbdbd"/>
<rect x="256.24" y="23.80" width="1.7" height="2.0" fill="#bdbdbd"/>
<rect x="259.88" y="23.80" width="1.7" height="2.0" fill="#bdbdbd"/>
<rect x="263.52" y="23.80" width="1.7" height="2.0" fill="#bdbdbd"/>
<rect x="267.16" y="23.80" width="1.7" height="2.0" fill="#bdbdbd"/>
<rect x="270.81" y="23.80" width="1.7" height="2.0" fill="#bdbdbd"/>
<rect x="274.45" y="23.80" width="1.7" height="2.0" fill="#bdbdbd"/>
<rect x="278.09" y="23.80" width="1.7" height="2.0" fill="#bdbdbd"/>
<rect x="281.74" y="23.80" width="1.7" height="2.0" fill="#bdbdbd"/>
<rect x="285.38" y="23.80" width="1.7" height="2.0" fill="#bdbdbd"/>
<rect x="289.02" y="23.80" width="1.7" height="2.0" fill="#bdbdbd"/>
<rect x="292.66" y="23.80" width="1.7" height="2.0" fill="#bdbdbd"/>
<rect x="296.31" y="23.80" width="1.7" height="2.0" fill="#bdbdbd"/>
<rect x="299.95" y="23.80" width="1.7" height="2.0" fill="#bdbdbd"/>
<rect x="303.59" y="23.80" width="1.7" height="2.0" fill="#bdbdbd"/>
<rect x="307.24" y="23.80" width="1.7" height="2.0" fill="#bdbdbd"/>
<rect x="310.88" y="23.80" width="1.7" height="2.0" fill="#bdbdbd"/>
<rect x="314.52" y="23.80" width="1.7" height="2.0" fill="#bdbdbd"/>
<rect x="318.16" y="23.80" width="1.7" height="2.0" fill="#bdbdbd"/>
<rect x="321.81" y="23.80" width="1.7" height="2.0" fill="#bdbdbd"/>
<rect x="325.45" y="23.80" width="1.7" height="2.0" fill="#bdbdbd"/>
<rect x="222.80" y="21.15" width="3.2" height="0.7" fill="#aaaaaa"/>
<rect x="257.70" y="21.15" width="3.2" height="0.7" fill="#aaaaaa"/>
<rect x="293.60" y="21.15" width="3.2" height="0.7" fill="#aaaaaa"/>
<rect x="326.70" y="21.15" width="3.2" height="0.7" fill="#aaaaaa"/>
<line x1="376.5" y1="63.800000000000004" x2="515" y2="63.800000000000004" stroke="#9a9a9a" stroke-width="0.7"/>
<polyline points="383.90,62.90 384.10,62.39 384.30,61.62 384.50,60.51 384.70,59.01 384.90,57.12 385.10,54.88 385.30,52.44 385.50,50.00 385.70,47.83 385.90,46.19 386.10,45.31 386.30,45.31 386.50,46.19 386.70,47.82 386.90,49.98 387.10,52.38 387.30,54.77 387.50,56.90 387.70,58.62 387.90,59.83 388.10,60.51 388.30,60.66 388.50,60.33 388.70,59.58 388.90,58.52 389.10,57.25 389.30,55.94 389.50,54.75 389.70,53.85 389.90,53.36 390.10,53.36 390.30,53.86 390.50,54.77 390.70,55.99 390.90,57.35 391.10,58.72 391.30,59.97 391.50,61.03 391.70,61.87 391.90,62.49 392.10,62.92" fill="none" stroke="#9292de" stroke-width="0.8" stroke-linejoin="round"/>
<polyline points="395.10,62.98 395.30,62.51 395.50,61.77 395.70,60.68 395.90,59.15 396.10,57.16 396.30,54.72 396.50,51.95 396.70,49.05 396.90,46.30 397.10,44.02 397.30,42.51 397.50,41.96 397.70,42.45 397.90,43.88 398.10,46.00 398.30,48.49 398.50,50.97 398.70,53.07 398.90,54.52 399.10,55.14 399.30,54.86 399.50,53.75 399.70,51.99 399.90,49.85 400.10,47.65 400.30,45.76 400.50,44.49 400.70,44.06 400.90,44.56 401.10,45.93 401.30,47.98 401.50,50.46 401.70,53.08 401.90,55.58 402.10,57.78 402.30,59.58 402.50,60.96 402.70,61.95 402.90,62.62 403.10,63.04" fill="none" stroke="#9292de" stroke-width="0.8" stroke-linejoin="round"/>
<polyline points="408.90,63.19 409.10,62.86 409.30,62.32 409.50,61.50 409.70,60.32 409.90,58.74 410.10,56.73 410.30,54.36 410.50,51.77 410.70,49.19 410.90,46.89 411.10,45.15 411.30,44.22 411.50,44.22 411.70,45.15 411.90,46.89 412.10,49.19 412.30,51.77 412.50,54.36 412.70,56.73 412.90,58.74 413.10,60.32 413.30,61.50 413.50,62.32 413.70,62.86 413.90,63.19" fill="none" stroke="#9292de" stroke-width="0.8" stroke-linejoin="round"/>
<polyline points="418.70,63.01 418.90,62.56 419.10,61.86 419.30,60.81 419.50,59.36 419.70,57.46 419.90,55.13 420.10,52.49 420.30,49.72 420.50,47.10 420.70,44.94 420.90,43.50 421.10,43.00 421.30,43.50 421.50,44.94 421.70,47.10 421.90,49.72 422.10,52.49 422.30,55.13 422.50,57.46 422.70,59.36 422.90,60.81 423.10,61.86 423.30,62.56 423.50,63.01" fill="none" stroke="#9292de" stroke-width="0.8" stroke-linejoin="round"/>
<polyline points="430.70,63.07 430.90,62.67 431.10,62.04 431.30,61.11 431.50,59.81 431.70,58.11 431.90,56.04 432.10,53.67 432.30,51.20 432.50,48.87 432.70,46.93 432.90,45.64 433.10,45.19 433.30,45.62 433.50,46.87 433.70,48.74 433.90,50.96 434.10,53.21 434.30,55.22 434.50,56.74 434.70,57.62 434.90,57.77 435.10,57.21 435.30,56.01 435.50,54.34 435.70,52.40 435.90,50.48 436.10,48.85 436.30,47.74 436.50,47.35 436.70,47.71 436.90,48.75 437.10,50.29 437.30,52.07 437.50,53.77 437.70,55.11 437.90,55.85 438.10,55.82 438.30,54.97 438.50,53.35 438.70,51.13 438.90,48.59 439.10,46.05 439.30,43.90 439.50,42.46 439.70,41.97 439.90,42.51 440.10,44.03 440.30,46.30 440.50,49.05 440.70,51.95 440.90,54.72 441.10,57.16 441.30,59.15 441.50,60.68 441.70,61.77 441.90,62.51 442.10,62.98" fill="none" stroke="#9292de" stroke-width="0.8" stroke-linejoin="round"/>
<polyline points="448.30,63.04 448.50,62.59 448.70,61.86 448.90,60.76 449.10,59.17 449.30,57.02 449.50,54.30 449.70,51.09 449.90,47.59 450.10,44.09 450.30,40.98 450.50,38.63 450.70,37.36 450.90,37.36 451.10,38.63 451.30,40.98 451.50,44.09 451.70,47.59 451.90,51.09 452.10,54.30 452.30,57.02 452.50,59.17 452.70,60.76 452.90,61.86 453.10,62.59 453.30,63.04" fill="none" stroke="#9292de" stroke-width="0.8" stroke-linejoin="round"/>
<polyline points="456.10,62.91 456.30,62.38 456.50,61.54 456.70,60.31 456.90,58.60 457.10,56.35 457.30,53.61 457.50,50.49 457.70,47.23 457.90,44.14 458.10,41.58 458.30,39.88 458.50,39.27 458.70,39.82 458.90,41.44 459.10,43.87 459.30,46.72 459.50,49.60 459.70,52.10 459.90,53.94 460.10,54.93 460.30,55.00 460.50,54.22 460.70,52.77 460.90,50.91 461.10,48.97 461.30,47.27 461.50,46.12 461.70,45.72 461.90,46.13 462.10,47.30 462.30,49.02 462.50,51.01 462.70,52.93 462.90,54.50 463.10,55.44 463.30,55.59 463.50,54.90 463.70,53.42 463.90,51.32 464.10,48.88 464.30,46.43 464.50,44.34 464.70,42.93 464.90,42.43 465.10,42.93 465.30,44.32 465.50,46.40 465.70,48.83 465.90,51.24 466.10,53.27 466.30,54.67 466.50,55.24 466.70,54.93 466.90,53.80 467.10,52.02 467.30,49.86 467.50,47.66 467.70,45.77 467.90,44.49 468.10,44.06 468.30,44.56 468.50,45.93 468.70,47.98 468.90,50.46 469.10,53.08 469.30,55.58 469.50,57.78 469.70,59.58 469.90,60.96 470.10,61.95 470.30,62.62 470.50,63.04" fill="none" stroke="#9292de" stroke-width="0.8" stroke-linejoin="round"/>
<polyline points="481.30,62.90 481.50,62.39 481.70,61.62 481.90,60.51 482.10,59.01 482.30,57.12 482.50,54.88 482.70,52.44 482.90,50.00 483.10,47.83 483.30,46.19 483.50,45.31 483.70,45.31 483.90,46.19 484.10,47.83 484.30,50.00 484.50,52.44 484.70,54.88 484.90,57.12 485.10,59.01 485.30,60.51 485.50,61.62 485.70,62.39 485.90,62.90" fill="none" stroke="#9292de" stroke-width="0.8" stroke-linejoin="round"/>
<polyline points="488.10,62.92 488.30,62.41 488.50,61.59 488.70,60.39 488.90,58.72 489.10,56.53 489.30,53.86 489.50,50.82 489.70,47.63 489.90,44.62 490.10,42.13 490.30,40.48 490.50,39.90 490.70,40.48 490.90,42.13 491.10,44.62 491.30,47.63 491.50,50.82 491.70,53.86 491.90,56.53 492.10,58.72 492.30,60.39 492.50,61.59 492.70,62.41 492.90,62.92" fill="none" stroke="#9292de" stroke-width="0.8" stroke-linejoin="round"/>
<polyline points="495.10,62.87 495.30,62.32 495.50,61.45 495.70,60.16 495.90,58.37 496.10,56.02 496.30,53.16 496.50,49.90 496.70,46.49 496.90,43.26 497.10,40.59 497.30,38.82 497.50,38.20 497.70,38.82 497.90,40.59 498.10,43.26 498.30,46.49 498.50,49.90 498.70,53.16 498.90,56.02 499.10,58.37 499.30,60.16 499.50,61.45 499.70,62.32 499.90,62.87" fill="none" stroke="#9292de" stroke-width="0.8" stroke-linejoin="round"/>
<polyline points="502.50,63.10 502.70,62.70 502.90,62.04 503.10,61.05 503.30,59.62 503.50,57.69 503.70,55.25 503.90,52.37 504.10,49.22 504.30,46.08 504.50,43.29 504.70,41.17 504.90,40.02 505.10,40.00 505.30,41.08 505.50,43.09 505.70,45.71 505.90,48.55 506.10,51.20 506.30,53.33 506.50,54.70 506.70,55.18 506.90,54.78 507.10,53.61 507.30,51.90 507.50,49.95 507.70,48.08 507.90,46.63 508.10,45.85 508.30,45.88 508.50,46.75 508.70,48.34 508.90,50.44 509.10,52.80 509.30,55.17 509.50,57.33 509.70,59.16 509.90,60.61 510.10,61.68 510.30,62.43 510.50,62.92" fill="none" stroke="#9292de" stroke-width="0.8" stroke-linejoin="round"/>
<polyline points="391.10,62.91 391.30,62.38 391.50,61.54 391.70,60.31 391.90,58.60 392.10,56.35 392.30,53.61 392.50,50.49 392.70,47.23 392.90,44.14 393.10,41.59 393.30,39.89 393.50,39.30 393.70,39.89 393.90,41.59 394.10,44.14 394.30,47.23 394.50,50.49 394.70,53.61 394.90,56.35 395.10,58.60 395.30,60.31 395.50,61.54 395.70,62.38 395.90,62.91" fill="none" stroke="#eeaaae" stroke-width="0.8" stroke-linejoin="round"/>
<polyline points="401.50,62.95 401.70,62.46 401.90,61.68 402.10,60.53 402.30,58.93 402.50,56.83 402.70,54.27 402.90,51.36 403.10,48.31 403.30,45.42 403.50,43.03 403.70,41.45 403.90,40.90 404.10,41.45 404.30,43.02 404.50,45.38 404.70,48.22 404.90,51.17 405.10,53.90 405.30,56.15 405.50,57.73 405.70,58.52 405.90,58.47 406.10,57.58 406.30,55.88 406.50,53.51 406.70,50.64 406.90,47.55 407.10,44.58 407.30,42.11 407.50,40.47 407.70,39.90 407.90,40.48 408.10,42.13 408.30,44.62 408.50,47.63 408.70,50.82 408.90,53.86 409.10,56.53 409.30,58.72 409.50,60.39 409.70,61.59 409.90,62.41 410.10,62.92" fill="none" stroke="#eeaaae" stroke-width="0.8" stroke-linejoin="round"/>
<polyline points="414.90,63.00 415.10,62.54 415.30,61.81 415.50,60.74 415.70,59.25 415.90,57.31 416.10,54.93 416.30,52.22 416.50,49.39 416.70,46.70 416.90,44.48 417.10,43.01 417.30,42.50 417.50,43.01 417.70,44.48 417.90,46.70 418.10,49.39 418.30,52.22 418.50,54.93 418.70,57.31 418.90,59.25 419.10,60.74 419.30,61.81 419.50,62.54 419.70,63.00" fill="none" stroke="#eeaaae" stroke-width="0.8" stroke-linejoin="round"/>
<polyline points="427.10,62.97 427.30,62.54 427.50,61.91 427.70,61.03 427.90,59.87 428.10,58.46 428.30,56.86 428.50,55.18 428.70,53.59 428.90,52.28 429.10,51.40 429.30,51.10 429.50,51.40 429.70,52.28 429.90,53.59 430.10,55.18 430.30,56.86 430.50,58.46 430.70,59.87 430.90,61.03 431.10,61.91 431.30,62.54 431.50,62.97" fill="none" stroke="#eeaaae" stroke-width="0.8" stroke-linejoin="round"/>
<polyline points="444.50,63.03 444.70,62.57 444.90,61.83 445.10,60.69 445.30,59.06 445.50,56.87 445.70,54.09 445.90,50.81 446.10,47.22 446.30,43.65 446.50,40.46 446.70,38.06 446.90,36.77 447.10,36.77 447.30,38.06 447.50,40.46 447.70,43.65 447.90,47.22 448.10,50.81 448.30,54.09 448.50,56.87 448.70,59.06 448.90,60.69 449.10,61.83 449.30,62.57 449.50,63.03" fill="none" stroke="#eeaaae" stroke-width="0.8" stroke-linejoin="round"/>
<polyline points="452.30,62.94 452.50,62.43 452.70,61.64 452.90,60.46 453.10,58.82 453.30,56.68 453.50,54.06 453.70,51.09 453.90,47.97 454.10,45.02 454.30,42.58 454.50,40.97 454.70,40.40 454.90,40.97 455.10,42.58 455.30,45.02 455.50,47.97 455.70,51.09 455.90,54.06 456.10,56.68 456.30,58.82 456.50,60.46 456.70,61.64 456.90,62.43 457.10,62.94" fill="none" stroke="#eeaaae" stroke-width="0.8" stroke-linejoin="round"/>
<polyline points="469.50,63.18 469.70,62.82 469.90,62.23 470.10,61.30 470.30,59.92 470.50,58.00 470.70,55.49 470.90,52.42 471.10,48.93 471.30,45.28 471.50,41.82 471.70,38.96 471.90,37.06 472.10,36.40 472.30,37.06 472.50,38.96 472.70,41.82 472.90,45.28 473.10,48.93 473.30,52.42 473.50,55.49 473.70,58.00 473.90,59.92 474.10,61.30 474.30,62.23 474.50,62.82 474.70,63.18" fill="none" stroke="#eeaaae" stroke-width="0.8" stroke-linejoin="round"/>
<polyline points="477.50,62.88 477.70,62.36 477.90,61.56 478.10,60.43 478.30,58.89 478.50,56.94 478.70,54.64 478.90,52.14 479.10,49.63 479.30,47.40 479.50,45.72 479.70,44.82 479.90,44.82 480.10,45.72 480.30,47.40 480.50,49.63 480.70,52.14 480.90,54.64 481.10,56.94 481.30,58.89 481.50,60.43 481.70,61.56 481.90,62.36 482.10,62.88" fill="none" stroke="#eeaaae" stroke-width="0.8" stroke-linejoin="round"/>
<polyline points="484.70,62.97 484.90,62.49 485.10,61.73 485.30,60.61 485.50,59.05 485.70,57.01 485.90,54.51 486.10,51.68 486.30,48.71 486.50,45.90 486.70,43.58 486.90,42.04 487.10,41.50 487.30,42.04 487.50,43.58 487.70,45.90 487.90,48.71 488.10,51.68 488.30,54.51 488.50,57.01 488.70,59.05 488.90,60.61 489.10,61.73 489.30,62.49 489.50,62.97" fill="none" stroke="#eeaaae" stroke-width="0.8" stroke-linejoin="round"/>
<polyline points="491.70,62.91 491.90,62.38 492.10,61.54 492.30,60.31 492.50,58.60 492.70,56.35 492.90,53.61 493.10,50.49 493.30,47.23 493.50,44.14 493.70,41.59 493.90,39.89 494.10,39.30 494.30,39.89 494.50,41.59 494.70,44.14 494.90,47.23 495.10,50.49 495.30,53.61 495.50,56.35 495.70,58.60 495.90,60.31 496.10,61.54 496.30,62.38 496.50,62.91" fill="none" stroke="#eeaaae" stroke-width="0.8" stroke-linejoin="round"/>
<polyline points="498.90,62.97 499.10,62.49 499.30,61.73 499.50,60.61 499.70,59.05 499.90,57.01 500.10,54.51 500.30,51.68 500.50,48.71 500.70,45.90 500.90,43.58 501.10,42.04 501.30,41.50 501.50,42.04 501.70,43.58 501.90,45.90 502.10,48.71 502.30,51.68 502.50,54.51 502.70,57.01 502.90,59.05 503.10,60.61 503.30,61.73 503.50,62.49 503.70,62.97" fill="none" stroke="#eeaaae" stroke-width="0.8" stroke-linejoin="round"/>
<polyline points="509.30,63.12 509.50,62.73 509.70,62.11 509.90,61.16 510.10,59.79 510.30,57.94 510.50,55.60 510.70,52.84 510.90,49.83 511.10,46.82 511.30,44.15 511.50,42.13 511.70,41.04 511.90,41.04 512.10,42.13 512.30,44.15 512.50,46.82 512.70,49.83 512.90,52.84 513.10,55.60 513.30,57.94 513.50,59.79 513.70,61.16 513.90,62.11 514.10,62.73 514.30,63.12" fill="none" stroke="#eeaaae" stroke-width="0.8" stroke-linejoin="round"/>
<polyline points="411.70,62.86 411.90,62.29 412.10,61.41 412.30,60.09 412.50,58.27 412.70,55.88 412.90,52.95 413.10,49.63 413.30,46.15 413.50,42.86 413.70,40.14 413.90,38.33 414.10,37.70 414.30,38.33 414.50,40.14 414.70,42.86 414.90,46.15 415.10,49.63 415.30,52.95 415.50,55.88 415.70,58.27 415.90,60.09 416.10,61.41 416.30,62.29 416.50,62.86" fill="none" stroke="#8acb8a" stroke-width="0.8" stroke-linejoin="round"/>
<polyline points="376.50,60.37 376.70,58.92 376.90,57.15 377.10,55.13 377.30,53.02 377.50,51.03 377.70,49.37 377.90,48.28 378.10,47.89 378.30,48.26 378.50,49.32 378.70,50.91 378.90,52.80 379.10,54.70 379.30,56.36 379.50,57.56 379.70,58.15 379.90,58.01 380.10,57.13 380.30,55.55 380.50,53.39 380.70,50.86 380.90,48.25 381.10,45.89 381.30,44.09 381.50,43.11 381.70,43.12 381.90,44.11 382.10,45.95 382.30,48.38 382.50,51.11 382.70,53.84 382.90,56.34 383.10,58.46 383.30,60.14 383.50,61.38 383.70,62.25 383.90,62.81 384.10,63.17" fill="none" stroke="#999999" stroke-width="0.8" stroke-linejoin="round"/>
<polyline points="422.50,63.08 422.70,62.71 422.90,62.14 423.10,61.32 423.30,60.21 423.50,58.81 423.70,57.16 423.90,55.35 424.10,53.55 424.30,51.94 424.50,50.73 424.70,50.08 424.90,50.08 425.10,50.73 425.30,51.94 425.50,53.55 425.70,55.35 425.90,57.16 426.10,58.81 426.30,60.21 426.50,61.32 426.70,62.14 426.90,62.71 427.10,63.08" fill="none" stroke="#999999" stroke-width="0.8" stroke-linejoin="round"/>
<polyline points="440.70,63.17 440.90,62.81 441.10,62.25 441.30,61.38 441.50,60.14 441.70,58.46 441.90,56.34 442.10,53.84 442.30,51.11 442.50,48.38 442.70,45.95 442.90,44.11 443.10,43.13 443.30,43.13 443.50,44.11 443.70,45.95 443.90,48.38 444.10,51.11 444.30,53.84 444.50,56.34 444.70,58.46 444.90,60.14 445.10,61.38 445.30,62.25 445.50,62.81 445.70,63.17" fill="none" stroke="#999999" stroke-width="0.8" stroke-linejoin="round"/>
<polyline points="473.10,63.05 473.30,62.58 473.50,61.81 473.70,60.59 473.90,58.78 474.10,56.27 474.30,52.98 474.50,48.96 474.70,44.40 474.90,39.62 475.10,35.09 475.30,31.35 475.50,28.87 475.70,28.00 475.90,28.87 476.10,31.35 476.30,35.09 476.50,39.62 476.70,44.40 476.90,48.96 477.10,52.98 477.30,56.27 477.50,58.78 477.70,60.59 477.90,61.81 478.10,62.58 478.30,63.05" fill="none" stroke="#999999" stroke-width="0.8" stroke-linejoin="round"/>
<rect x="380.75" y="25.00" width="1.7" height="2.0" fill="#bdbdbd"/>
<rect x="384.48" y="25.00" width="1.7" height="2.0" fill="#bdbdbd"/>
<rect x="388.20" y="25.00" width="1.7" height="2.0" fill="#bdbdbd"/>
<rect x="391.93" y="25.00" width="1.7" height="2.0" fill="#bdbdbd"/>
<rect x="395.65" y="25.00" width="1.7" height="2.0" fill="#bdbdbd"/>
<rect x="399.38" y="25.00" width="1.7" height="2.0" fill="#bdbdbd"/>
<rect x="403.10" y="25.00" width="1.7" height="2.0" fill="#bdbdbd"/>
<rect x="406.83" y="25.00" width="1.7" height="2.0" fill="#bdbdbd"/>
<rect x="410.56" y="25.00" width="1.7" height="2.0" fill="#bdbdbd"/>
<rect x="414.28" y="25.00" width="1.7" height="2.0" fill="#bdbdbd"/>
<rect x="418.01" y="25.00" width="1.7" height="2.0" fill="#bdbdbd"/>
<rect x="421.73" y="25.00" width="1.7" height="2.0" fill="#bdbdbd"/>
<rect x="425.46" y="25.00" width="1.7" height="2.0" fill="#bdbdbd"/>
<rect x="429.18" y="25.00" width="1.7" height="2.0" fill="#bdbdbd"/>
<rect x="432.91" y="25.00" width="1.7" height="2.0" fill="#bdbdbd"/>
<rect x="436.64" y="25.00" width="1.7" height="2.0" fill="#bdbdbd"/>
<rect x="440.36" y="25.00" width="1.7" height="2.0" fill="#bdbdbd"/>
<rect x="444.09" y="25.00" width="1.7" height="2.0" fill="#bdbdbd"/>
<rect x="447.81" y="25.00" width="1.7" height="2.0" fill="#bdbdbd"/>
<rect x="451.54" y="25.00" width="1.7" height="2.0" fill="#bdbdbd"/>
<rect x="455.26" y="25.00" width="1.7" height="2.0" fill="#bdbdbd"/>
<rect x="458.99" y="25.00" width="1.7" height="2.0" fill="#bdbdbd"/>
<rect x="462.72" y="25.00" width="1.7" height="2.0" fill="#bdbdbd"/>
<rect x="466.44" y="25.00" width="1.7" height="2.0" fill="#bdbdbd"/>
<rect x="470.17" y="25.00" width="1.7" height="2.0" fill="#bdbdbd"/>
<rect x="473.89" y="25.00" width="1.7" height="2.0" fill="#bdbdbd"/>
<rect x="477.62" y="25.00" width="1.7" height="2.0" fill="#bdbdbd"/>
<rect x="481.34" y="25.00" width="1.7" height="2.0" fill="#bdbdbd"/>
<rect x="485.07" y="25.00" width="1.7" height="2.0" fill="#bdbdbd"/>
<rect x="488.80" y="25.00" width="1.7" height="2.0" fill="#bdbdbd"/>
<rect x="492.52" y="25.00" width="1.7" height="2.0" fill="#bdbdbd"/>
<rect x="496.25" y="25.00" width="1.7" height="2.0" fill="#bdbdbd"/>
<rect x="499.97" y="25.00" width="1.7" height="2.0" fill="#bdbdbd"/>
<rect x="503.70" y="25.00" width="1.7" height="2.0" fill="#bdbdbd"/>
<rect x="507.42" y="25.00" width="1.7" height="2.0" fill="#bdbdbd"/>
<rect x="511.15" y="25.00" width="1.7" height="2.0" fill="#bdbdbd"/>
<rect x="396.20" y="22.85" width="3.2" height="0.7" fill="#aaaaaa"/>
<rect x="431.10" y="22.85" width="3.2" height="0.7" fill="#aaaaaa"/>
<rect x="466.40" y="22.85" width="3.2" height="0.7" fill="#aaaaaa"/>
<rect x="502.80" y="22.85" width="3.2" height="0.7" fill="#aaaaaa"/>
<text x="2.1" y="87.9" font-size="7.0" fill="#111" font-weight="normal" text-anchor="start" font-family='"Liberation Sans", sans-serif'  >BCL2</text>
<text x="1.9" y="123.6" font-size="7.4" fill="#111" font-weight="normal" text-anchor="start" font-family='"Liberation Sans", sans-serif'  >βactin</text>
<rect x="4.5" y="92.5" width="151.8" height="21.0" fill="#fff" stroke="#404040" stroke-width="1.1"/>
<rect x="4.5" y="131.0" width="151.8" height="22.19999999999999" fill="#fff" stroke="#404040" stroke-width="1.1"/>
<rect x="18.80" y="101.40" width="7.80" height="1.40" rx="2.34" ry="0.70" fill="#d8d8d8" filter="url(#bl)"/>
<rect x="32.90" y="101.65" width="10.10" height="1.50" rx="3.03" ry="0.75" fill="#8a8a8a" filter="url(#bl)"/>
<rect x="49.30" y="101.90" width="10.20" height="2.00" rx="3.06" ry="1.00" fill="#505050" filter="url(#bl)"/>
<rect x="65.00" y="101.60" width="12.50" height="2.60" rx="3.75" ry="1.30" fill="#1a1a1a" filter="url(#bl)"/>
<rect x="79.90" y="101.50" width="13.40" height="3.60" rx="4.02" ry="1.80" fill="#111" filter="url(#bl)"/>
<rect x="95.40" y="101.70" width="14.70" height="3.00" rx="4.41" ry="1.50" fill="#111" filter="url(#bl)"/>
<rect x="112.30" y="102.20" width="13.40" height="2.60" rx="4.02" ry="1.30" fill="#111" filter="url(#bl)"/>
<rect x="127.00" y="100.80" width="15.30" height="4.60" rx="4.59" ry="2.30" fill="#111" filter="url(#bl)"/>
<rect x="17.20" y="140.20" width="12.50" height="3.60" rx="3.75" ry="1.80" fill="#111" filter="url(#bl)"/>
<rect x="32.00" y="141.00" width="11.80" height="3.60" rx="3.54" ry="1.80" fill="#111" filter="url(#bl)"/>
<rect x="48.50" y="142.40" width="11.00" height="2.40" rx="3.30" ry="1.20" fill="#111" filter="url(#bl)"/>
<rect x="63.40" y="141.20" width="15.60" height="4.80" rx="4.68" ry="2.40" fill="#111" filter="url(#bl)"/>
<rect x="80.70" y="141.50" width="12.60" height="4.80" rx="3.78" ry="2.40" fill="#111" filter="url(#bl)"/>
<rect x="95.90" y="141.50" width="14.20" height="4.80" rx="4.26" ry="2.40" fill="#111" filter="url(#bl)"/>
<rect x="112.30" y="142.00" width="13.40" height="4.60" rx="4.02" ry="2.30" fill="#111" filter="url(#bl)"/>
<rect x="127.60" y="141.20" width="14.70" height="4.80" rx="4.41" ry="2.40" fill="#111" filter="url(#bl)"/>
<text x="183.5" y="87.9" font-size="7.0" fill="#111" font-weight="normal" text-anchor="start" font-family='"Liberation Sans", sans-serif'  >BCL2</text>
<text x="182.8" y="123.3" font-size="7.4" fill="#111" font-weight="normal" text-anchor="start" font-family='"Liberation Sans", sans-serif'  >βactin</text>
<rect x="183.6" y="92.5" width="144.6" height="21.0" fill="#fff" stroke="#404040" stroke-width="1.1"/>
<rect x="183.6" y="130.6" width="144.6" height="22.400000000000006" fill="#fff" stroke="#404040" stroke-width="1.1"/>
<rect x="190.50" y="102.60" width="10.70" height="2.00" rx="3.21" ry="1.00" fill="#111" filter="url(#bl)" transform="rotate(4 195.85 103.6)"/>
<rect x="205.40" y="103.10" width="13.60" height="2.00" rx="4.08" ry="1.00" fill="#111" filter="url(#bl)" transform="rotate(-2 212.2 104.1)"/>
<rect x="224.20" y="102.95" width="10.90" height="1.30" rx="3.27" ry="0.65" fill="#a0a0a0" filter="url(#bl)"/>
<rect x="241.40" y="102.20" width="13.30" height="2.20" rx="3.99" ry="1.10" fill="#111" filter="url(#bl)"/>
<rect x="258.30" y="102.00" width="14.80" height="4.00" rx="4.44" ry="2.00" fill="#111" filter="url(#bl)"/>
<rect x="275.20" y="102.80" width="15.10" height="3.60" rx="4.53" ry="1.80" fill="#111" filter="url(#bl)"/>
<rect x="291.90" y="104.00" width="14.10" height="3.00" rx="4.23" ry="1.50" fill="#111" filter="url(#bl)"/>
<rect x="308.00" y="104.20" width="16.00" height="4.00" rx="4.80" ry="2.00" fill="#111" filter="url(#bl)"/>
<rect x="189.70" y="138.50" width="10.20" height="2.20" rx="3.06" ry="1.10" fill="#111" filter="url(#bl)" transform="rotate(4 194.8 139.6)"/>
<rect x="203.80" y="138.90" width="14.10" height="3.00" rx="4.23" ry="1.50" fill="#111" filter="url(#bl)"/>
<rect x="222.60" y="140.20" width="11.40" height="2.00" rx="3.42" ry="1.00" fill="#111" filter="url(#bl)"/>
<rect x="239.00" y="140.50" width="12.90" height="3.00" rx="3.87" ry="1.50" fill="#111" filter="url(#bl)" transform="rotate(4 245.45 142.0)"/>
<rect x="256.70" y="141.60" width="14.10" height="3.00" rx="4.23" ry="1.50" fill="#111" filter="url(#bl)"/>
<rect x="273.60" y="139.90" width="14.40" height="7.00" rx="4.32" ry="3.50" fill="#111" filter="url(#bl)"/>
<rect x="291.10" y="143.00" width="12.90" height="3.40" rx="3.87" ry="1.70" fill="#111" filter="url(#bl)" transform="rotate(6 297.55 144.7)"/>
<rect x="309.10" y="145.70" width="11.80" height="2.00" rx="3.54" ry="1.00" fill="#111" filter="url(#bl)" transform="rotate(4 315.0 146.7)"/>
<text x="368.5" y="87.9" font-size="7.0" fill="#111" font-weight="normal" text-anchor="start" font-family='"Liberation Sans", sans-serif'  >BCL2</text>
<text x="363.9" y="123.3" font-size="7.4" fill="#111" font-weight="normal" text-anchor="start" font-family='"Liberation Sans", sans-serif'  >βactin</text>
<rect x="364.8" y="92.5" width="144.5" height="20.900000000000006" fill="#fff" stroke="#404040" stroke-width="1.1"/>
<rect x="364.8" y="131.0" width="144.5" height="22.19999999999999" fill="#fff" stroke="#404040" stroke-width="1.1"/>
<rect x="378.50" y="99.10" width="10.00" height="1.40" rx="3.00" ry="0.70" fill="#6a6a6a" filter="url(#bl)" transform="rotate(4 383.5 99.8)"/>
<rect x="396.00" y="100.65" width="8.60" height="1.30" rx="2.58" ry="0.65" fill="#dcdcdc" filter="url(#bl)"/>
<rect x="411.60" y="101.10" width="7.90" height="1.40" rx="2.37" ry="0.70" fill="#777777" filter="url(#bl)"/>
<rect x="426.50" y="101.70" width="8.60" height="1.40" rx="2.58" ry="0.70" fill="#d0d0d0" filter="url(#bl)"/>
<rect x="440.50" y="101.10" width="11.70" height="2.00" rx="3.51" ry="1.00" fill="#111" filter="url(#bl)"/>
<rect x="453.80" y="100.70" width="18.20" height="2.40" rx="5.46" ry="1.20" fill="#111" filter="url(#bl)"/>
<rect x="468.00" y="101.90" width="22.00" height="1.80" rx="6.60" ry="0.90" fill="#111" filter="url(#bl)"/>
<rect x="488.20" y="101.70" width="15.70" height="3.00" rx="4.71" ry="1.50" fill="#111" filter="url(#bl)"/>
<rect x="371.70" y="141.60" width="12.60" height="3.00" rx="3.78" ry="1.50" fill="#111" filter="url(#bl)"/>
<rect x="389.00" y="143.00" width="10.10" height="2.00" rx="3.03" ry="1.00" fill="#111" filter="url(#bl)"/>
<rect x="405.40" y="143.70" width="10.20" height="2.00" rx="3.06" ry="1.00" fill="#111" filter="url(#bl)" transform="rotate(4 410.5 144.7)"/>
<rect x="421.00" y="144.40" width="12.60" height="3.00" rx="3.78" ry="1.50" fill="#111" filter="url(#bl)" transform="rotate(3 427.3 145.9)"/>
<rect x="436.60" y="144.90" width="12.50" height="2.60" rx="3.75" ry="1.30" fill="#111" filter="url(#bl)"/>
<rect x="451.40" y="143.10" width="16.50" height="5.00" rx="4.95" ry="2.50" fill="#111" filter="url(#bl)"/>
<rect x="455.00" y="141.25" width="7.00" height="3.50" rx="2.10" ry="1.75" fill="#111" filter="url(#bl)"/>
<rect x="469.40" y="145.45" width="14.90" height="3.50" rx="4.47" ry="1.75" fill="#111" filter="url(#bl)"/>
<rect x="486.60" y="145.40" width="14.90" height="2.60" rx="4.47" ry="1.30" fill="#111" filter="url(#bl)"/>
<text x="20.0" y="175.9" font-size="8.6" fill="#6e6ed2" font-weight="normal" text-anchor="start" font-family='"Liberation Sans", sans-serif'  >1</text>
<text x="37.0" y="175.9" font-size="8.6" fill="#6e6ed2" font-weight="normal" text-anchor="start" font-family='"Liberation Sans", sans-serif'  >2</text>
<text x="54.8" y="175.9" font-size="8.6" fill="#6e6ed2" font-weight="normal" text-anchor="start" font-family='"Liberation Sans", sans-serif'  >3</text>
<text x="69.8" y="175.9" font-size="8.6" fill="#6e6ed2" font-weight="normal" text-anchor="start" font-family='"Liberation Sans", sans-serif'  >H</text>
<text x="88.8" y="175.9" font-size="8.6" fill="#111" font-weight="normal" text-anchor="start" font-family='"Liberation Sans", sans-serif'  >4</text>
<text x="103.8" y="175.9" font-size="8.6" fill="#111" font-weight="normal" text-anchor="start" font-family='"Liberation Sans", sans-serif'  >5</text>
<text x="120.6" y="175.9" font-size="8.6" fill="#111" font-weight="normal" text-anchor="start" font-family='"Liberation Sans", sans-serif'  >6</text>
<text x="133.6" y="175.9" font-size="8.6" fill="#111" font-weight="normal" text-anchor="start" font-family='"Liberation Sans", sans-serif'  >SC-1</text>
<text x="192.2" y="176.9" font-size="8.6" fill="#6e6ed2" font-weight="normal" text-anchor="start" font-family='"Liberation Sans", sans-serif'  >7</text>
<text x="209.0" y="176.9" font-size="8.6" fill="#6e6ed2" font-weight="normal" text-anchor="start" font-family='"Liberation Sans", sans-serif'  >8</text>
<text x="226.2" y="176.9" font-size="8.6" fill="#6e6ed2" font-weight="normal" text-anchor="start" font-family='"Liberation Sans", sans-serif'  >9</text>
<text x="242.2" y="176.9" font-size="8.6" fill="#6e6ed2" font-weight="normal" text-anchor="start" font-family='"Liberation Sans", sans-serif'  >H</text>
<text x="258.4" y="176.9" font-size="8.6" fill="#111" font-weight="normal" text-anchor="start" font-family='"Liberation Sans", sans-serif'  >10</text>
<text x="276.2" y="176.9" font-size="8.6" fill="#111" font-weight="normal" text-anchor="start" font-family='"Liberation Sans", sans-serif'  >11</text>
<text x="292.8" y="176.9" font-size="8.6" fill="#111" font-weight="normal" text-anchor="start" font-family='"Liberation Sans", sans-serif'  >12</text>
<text x="307.4" y="176.9" font-size="8.6" fill="#111" font-weight="normal" text-anchor="start" font-family='"Liberation Sans", sans-serif'  >SC-1</text>
<text x="369.8" y="177.4" font-size="8.5" fill="#6e6ed2" font-weight="bold" text-anchor="start" font-family='"Liberation Sans", sans-serif'  >13</text>
<text x="387.4" y="177.4" font-size="8.5" fill="#6e6ed2" font-weight="bold" text-anchor="start" font-family='"Liberation Sans", sans-serif'  >14</text>
<text x="403.8" y="177.4" font-size="8.5" fill="#6e6ed2" font-weight="bold" text-anchor="start" font-family='"Liberation Sans", sans-serif'  >15</text>
<text x="425.4" y="177.4" font-size="8.5" fill="#6e6ed2" font-weight="bold" text-anchor="start" font-family='"Liberation Sans", sans-serif'  >H</text>
<text x="437.8" y="177.4" font-size="8.5" fill="#111" font-weight="bold" text-anchor="start" font-family='"Liberation Sans", sans-serif'  >16</text>
<text x="454.8" y="177.4" font-size="8.5" fill="#111" font-weight="bold" text-anchor="start" font-family='"Liberation Sans", sans-serif'  >17</text>
<text x="472.2" y="177.4" font-size="8.5" fill="#111" font-weight="bold" text-anchor="start" font-family='"Liberation Sans", sans-serif'  >18</text>
<text x="488.8" y="177.4" font-size="8.5" fill="#111" font-weight="bold" text-anchor="start" font-family='"Liberation Sans", sans-serif'  >SC-1</text>
<path d="M21.3,180.6 Q21.3,185.11 25.3,185.11 L46.15,185.11 Q49.15,185.11 49.15,188.8 Q49.15,185.11 52.15,185.11 L73.0,185.11 Q77.0,185.11 77.0,180.6" fill="none" stroke="#222" stroke-width="1.0"/>
<path d="M88.0,180.6 Q88.0,185.11 92.0,185.11 L117.0,185.11 Q120.0,185.11 120.0,188.8 Q120.0,185.11 123.0,185.11 L148.0,185.11 Q152.0,185.11 152.0,180.6" fill="none" stroke="#222" stroke-width="1.0"/>
<path d="M194.5,181.0 Q194.5,185.675 198.5,185.675 L219.25,185.675 Q222.25,185.675 222.25,189.5 Q222.25,185.675 225.25,185.675 L246.0,185.675 Q250.0,185.675 250.0,181.0" fill="none" stroke="#222" stroke-width="1.0"/>
<path d="M261.0,181.0 Q261.0,185.675 265.0,185.675 L290.5,185.675 Q293.5,185.675 293.5,189.5 Q293.5,185.675 296.5,185.675 L322.0,185.675 Q326.0,185.675 326.0,181.0" fill="none" stroke="#222" stroke-width="1.0"/>
<path d="M376.0,181.2 Q376.0,186.04 380.0,186.04 L400.0,186.04 Q403.0,186.04 403.0,190.0 Q403.0,186.04 406.0,186.04 L426.0,186.04 Q430.0,186.04 430.0,181.2" fill="none" stroke="#222" stroke-width="1.0"/>
<path d="M446.4,181.2 Q446.4,186.04 450.4,186.04 L475.2,186.04 Q478.2,186.04 478.2,190.0 Q478.2,186.04 481.2,186.04 L506.0,186.04 Q510.0,186.04 510.0,181.2" fill="none" stroke="#222" stroke-width="1.0"/>
<text x="34.4" y="201.0" font-size="7.4" fill="#6e6ed2" font-weight="normal" text-anchor="start" font-family='"Liberation Sans", sans-serif'  >Low BCL2</text>
<text x="206.6" y="200.4" font-size="7.4" fill="#6e6ed2" font-weight="normal" text-anchor="start" font-family='"Liberation Sans", sans-serif'  >Low BCL2</text>
<text x="395.8" y="202.4" font-size="7.4" fill="#6e6ed2" font-weight="normal" text-anchor="start" font-family='"Liberation Sans", sans-serif'  >Low BCL2</text>
<text x="102.8" y="201.0" font-size="7.4" fill="#111" font-weight="normal" text-anchor="start" font-family='"Liberation Sans", sans-serif'  >High BCL2</text>
<text x="275.0" y="200.4" font-size="7.4" fill="#111" font-weight="normal" text-anchor="start" font-family='"Liberation Sans", sans-serif'  >High BCL2</text>
<text x="465.0" y="202.4" font-size="7.4" fill="#111" font-weight="normal" text-anchor="start" font-family='"Liberation Sans", sans-serif'  >High BCL2</text>
<rect x="1.2" y="221.0" width="164.4" height="46.39999999999998" fill="#fff"/>
<rect x="1.2" y="251.4" width="164.4" height="15.999999999999972" fill="#fdf900"/>
<rect x="1.2" y="221.0" width="33.099999999999994" height="30.400000000000006" fill="#dadada"/>
<line x1="34.3" y1="221.0" x2="34.3" y2="267.4" stroke="#222" stroke-width="1"/>
<line x1="59.7" y1="221.0" x2="59.7" y2="267.4" stroke="#222" stroke-width="1"/>
<line x1="80.4" y1="221.0" x2="80.4" y2="267.4" stroke="#222" stroke-width="1"/>
<line x1="101.5" y1="221.0" x2="101.5" y2="267.4" stroke="#222" stroke-width="1"/>
<line x1="122.7" y1="221.0" x2="122.7" y2="267.4" stroke="#222" stroke-width="1"/>
<line x1="143.8" y1="221.0" x2="143.8" y2="267.4" stroke="#222" stroke-width="1"/>
<line x1="1.2" y1="238.6" x2="165.6" y2="238.6" stroke="#222" stroke-width="1"/>
<line x1="1.2" y1="251.4" x2="165.6" y2="251.4" stroke="#222" stroke-width="1"/>
<rect x="1.2" y="221.0" width="164.4" height="46.39999999999998" fill="none" stroke="#111" stroke-width="1.8"/>
<text x="6.7" y="230.9" font-size="7.3" fill="#222" font-weight="normal" text-anchor="start" font-family='"Liberation Serif", serif'  stroke="#222" stroke-width="0.15" lengthAdjust="spacingAndGlyphs" textLength="18.6">Patient</text>
<text x="6.7" y="247.0" font-size="7.3" fill="#222" font-weight="normal" text-anchor="start" font-family='"Liberation Serif", serif'  stroke="#222" stroke-width="0.15" lengthAdjust="spacingAndGlyphs" textLength="19.6">Protein</text>
<text x="6.7" y="261.4" font-size="7.3" fill="#222" font-weight="normal" text-anchor="start" font-family='"Liberation Serif", serif'  stroke="#222" stroke-width="0.15" lengthAdjust="spacingAndGlyphs" textLength="10.3">RNA</text>
<text x="39.599999999999994" y="230.5" font-size="6.7" fill="#7676c6" font-weight="normal" text-anchor="start" font-family='"Liberation Sans", sans-serif'  >1</text>
<text x="65.0" y="230.5" font-size="6.7" fill="#7676c6" font-weight="normal" text-anchor="start" font-family='"Liberation Sans", sans-serif'  >2</text>
<text x="85.7" y="230.5" font-size="6.7" fill="#7676c6" font-weight="normal" text-anchor="start" font-family='"Liberation Sans", sans-serif'  >3</text>
<text x="106.8" y="230.5" font-size="6.7" fill="#111" font-weight="normal" text-anchor="start" font-family='"Liberation Sans", sans-serif'  >4</text>
<text x="128.0" y="230.5" font-size="6.7" fill="#111" font-weight="normal" text-anchor="start" font-family='"Liberation Sans", sans-serif'  >5</text>
<text x="149.10000000000002" y="230.5" font-size="6.7" fill="#111" font-weight="normal" text-anchor="start" font-family='"Liberation Sans", sans-serif'  >6</text>
<text x="39.599999999999994" y="247.1" font-size="6.7" fill="#7676c6" font-weight="normal" text-anchor="start" font-family='"Liberation Sans", sans-serif'  >0.14</text>
<text x="65.0" y="247.1" font-size="6.7" fill="#7676c6" font-weight="normal" text-anchor="start" font-family='"Liberation Sans", sans-serif'  >0.2</text>
<text x="85.7" y="247.1" font-size="6.7" fill="#7676c6" font-weight="normal" text-anchor="start" font-family='"Liberation Sans", sans-serif'  >0.5</text>
<text x="106.8" y="247.1" font-size="6.7" fill="#111" font-weight="normal" text-anchor="start" font-family='"Liberation Sans", sans-serif'  >0.5</text>
<text x="128.0" y="247.1" font-size="6.7" fill="#111" font-weight="normal" text-anchor="start" font-family='"Liberation Sans", sans-serif'  >1.1</text>
<text x="149.10000000000002" y="247.1" font-size="6.7" fill="#111" font-weight="normal" text-anchor="start" font-family='"Liberation Sans", sans-serif'  >1.2</text>
<text x="39.599999999999994" y="261.5" font-size="6.7" fill="#8c8c40" font-weight="normal" text-anchor="start" font-family='"Liberation Sans", sans-serif'  >8.4</text>
<text x="65.0" y="261.5" font-size="6.7" fill="#8c8c40" font-weight="normal" text-anchor="start" font-family='"Liberation Sans", sans-serif'  >1.5</text>
<text x="85.7" y="261.5" font-size="6.7" fill="#8c8c40" font-weight="normal" text-anchor="start" font-family='"Liberation Sans", sans-serif'  >2.7</text>
<text x="106.8" y="261.5" font-size="6.7" fill="#111" font-weight="normal" text-anchor="start" font-family='"Liberation Sans", sans-serif'  >1.9</text>
<text x="128.0" y="261.5" font-size="6.7" fill="#111" font-weight="normal" text-anchor="start" font-family='"Liberation Sans", sans-serif'  >3.6</text>
<text x="149.10000000000002" y="261.5" font-size="6.7" fill="#111" font-weight="normal" text-anchor="start" font-family='"Liberation Sans", sans-serif'  >4.5</text>
<rect x="177.0" y="221.0" width="165.3" height="47.0" fill="#fff"/>
<rect x="177.0" y="255.0" width="165.3" height="13.0" fill="#fdf900"/>
<rect x="177.0" y="221.0" width="34.5" height="34.0" fill="#dadada"/>
<line x1="211.5" y1="221.0" x2="211.5" y2="268.0" stroke="#222" stroke-width="1"/>
<line x1="236.6" y1="221.0" x2="236.6" y2="268.0" stroke="#222" stroke-width="1"/>
<line x1="258.0" y1="221.0" x2="258.0" y2="268.0" stroke="#222" stroke-width="1"/>
<line x1="278.8" y1="221.0" x2="278.8" y2="268.0" stroke="#222" stroke-width="1"/>
<line x1="300.0" y1="221.0" x2="300.0" y2="268.0" stroke="#222" stroke-width="1"/>
<line x1="321.0" y1="221.0" x2="321.0" y2="268.0" stroke="#222" stroke-width="1"/>
<line x1="177.0" y1="238.0" x2="342.3" y2="238.0" stroke="#222" stroke-width="1"/>
<line x1="177.0" y1="255.0" x2="342.3" y2="255.0" stroke="#222" stroke-width="1"/>
<rect x="177.0" y="221.0" width="165.3" height="47.0" fill="none" stroke="#111" stroke-width="1.8"/>
<text x="182.5" y="230.9" font-size="7.3" fill="#222" font-weight="normal" text-anchor="start" font-family='"Liberation Serif", serif'  stroke="#222" stroke-width="0.15" lengthAdjust="spacingAndGlyphs" textLength="18.6">Patient</text>
<text x="182.5" y="248.5" font-size="7.3" fill="#222" font-weight="normal" text-anchor="start" font-family='"Liberation Serif", serif'  stroke="#222" stroke-width="0.15" lengthAdjust="spacingAndGlyphs" textLength="19.6">Protein</text>
<text x="182.5" y="263.5" font-size="7.3" fill="#222" font-weight="normal" text-anchor="start" font-family='"Liberation Serif", serif'  stroke="#222" stroke-width="0.15" lengthAdjust="spacingAndGlyphs" textLength="10.3">RNA</text>
<text x="216.8" y="230.5" font-size="6.7" fill="#7676c6" font-weight="normal" text-anchor="start" font-family='"Liberation Sans", sans-serif'  >7</text>
<text x="241.9" y="230.5" font-size="6.7" fill="#7676c6" font-weight="normal" text-anchor="start" font-family='"Liberation Sans", sans-serif'  >8</text>
<text x="263.3" y="230.5" font-size="6.7" fill="#7676c6" font-weight="normal" text-anchor="start" font-family='"Liberation Sans", sans-serif'  >9</text>
<text x="284.1" y="230.5" font-size="6.7" fill="#111" font-weight="normal" text-anchor="start" font-family='"Liberation Sans", sans-serif'  >10</text>
<text x="305.3" y="230.5" font-size="6.7" fill="#111" font-weight="normal" text-anchor="start" font-family='"Liberation Sans", sans-serif'  >11</text>
<text x="326.3" y="230.5" font-size="6.7" fill="#111" font-weight="normal" text-anchor="start" font-family='"Liberation Sans", sans-serif'  >12</text>
<text x="216.8" y="248.6" font-size="6.7" fill="#7676c6" font-weight="normal" text-anchor="start" font-family='"Liberation Sans", sans-serif'  >0.3</text>
<text x="241.9" y="248.6" font-size="6.7" fill="#7676c6" font-weight="normal" text-anchor="start" font-family='"Liberation Sans", sans-serif'  >0.4</text>
<text x="263.3" y="248.6" font-size="6.7" fill="#7676c6" font-weight="normal" text-anchor="start" font-family='"Liberation Sans", sans-serif'  >0.2</text>
<text x="284.1" y="248.6" font-size="6.7" fill="#111" font-weight="normal" text-anchor="start" font-family='"Liberation Sans", sans-serif'  >0.9</text>
<text x="305.3" y="248.6" font-size="6.7" fill="#111" font-weight="normal" text-anchor="start" font-family='"Liberation Sans", sans-serif'  >1.1</text>
<text x="326.3" y="248.6" font-size="6.7" fill="#111" font-weight="normal" text-anchor="start" font-family='"Liberation Sans", sans-serif'  >0.8</text>
<text x="216.8" y="263.6" font-size="6.7" fill="#8c8c40" font-weight="normal" text-anchor="start" font-family='"Liberation Sans", sans-serif'  >2.3</text>
<text x="241.9" y="263.6" font-size="6.7" fill="#8c8c40" font-weight="normal" text-anchor="start" font-family='"Liberation Sans", sans-serif'  >1.9</text>
<text x="263.3" y="263.6" font-size="6.7" fill="#8c8c40" font-weight="normal" text-anchor="start" font-family='"Liberation Sans", sans-serif'  >3.8</text>
<text x="284.1" y="263.6" font-size="6.7" fill="#111" font-weight="normal" text-anchor="start" font-family='"Liberation Sans", sans-serif'  >0.8</text>
<text x="305.3" y="263.6" font-size="6.7" fill="#111" font-weight="normal" text-anchor="start" font-family='"Liberation Sans", sans-serif'  >4.5</text>
<text x="326.3" y="263.6" font-size="6.7" fill="#111" font-weight="normal" text-anchor="start" font-family='"Liberation Sans", sans-serif'  >1.4</text>
<rect x="354.8" y="221.4" width="164.2" height="47.599999999999994" fill="#fff"/>
<rect x="354.8" y="256.8" width="164.2" height="12.199999999999989" fill="#fdf900"/>
<rect x="354.8" y="221.4" width="33.5" height="35.400000000000006" fill="#dadada"/>
<line x1="388.3" y1="221.4" x2="388.3" y2="269.0" stroke="#222" stroke-width="1"/>
<line x1="413.5" y1="221.4" x2="413.5" y2="269.0" stroke="#222" stroke-width="1"/>
<line x1="434.4" y1="221.4" x2="434.4" y2="269.0" stroke="#222" stroke-width="1"/>
<line x1="455.6" y1="221.4" x2="455.6" y2="269.0" stroke="#222" stroke-width="1"/>
<line x1="476.7" y1="221.4" x2="476.7" y2="269.0" stroke="#222" stroke-width="1"/>
<line x1="497.9" y1="221.4" x2="497.9" y2="269.0" stroke="#222" stroke-width="1"/>
<line x1="354.8" y1="243.6" x2="519.0" y2="243.6" stroke="#222" stroke-width="1"/>
<line x1="354.8" y1="256.8" x2="519.0" y2="256.8" stroke="#222" stroke-width="1"/>
<rect x="354.8" y="221.4" width="164.2" height="47.599999999999994" fill="none" stroke="#111" stroke-width="1.8"/>
<text x="360.3" y="231.3" font-size="7.3" fill="#222" font-weight="normal" text-anchor="start" font-family='"Liberation Serif", serif'  stroke="#222" stroke-width="0.15" lengthAdjust="spacingAndGlyphs" textLength="18.6">Patient</text>
<text x="360.3" y="239.1" font-size="7.3" fill="#222" font-weight="normal" text-anchor="start" font-family='"Liberation Serif", serif'  stroke="#222" stroke-width="0.15" lengthAdjust="spacingAndGlyphs" textLength="19.8">number</text>
<text x="360.3" y="252.2" font-size="7.3" fill="#222" font-weight="normal" text-anchor="start" font-family='"Liberation Serif", serif'  stroke="#222" stroke-width="0.15" lengthAdjust="spacingAndGlyphs" textLength="19.6">Protein</text>
<text x="360.3" y="264.9" font-size="7.3" fill="#222" font-weight="normal" text-anchor="start" font-family='"Liberation Serif", serif'  stroke="#222" stroke-width="0.15" lengthAdjust="spacingAndGlyphs" textLength="10.3">RNA</text>
<text x="393.6" y="230.9" font-size="6.7" fill="#7676c6" font-weight="normal" text-anchor="start" font-family='"Liberation Sans", sans-serif'  >13</text>
<text x="418.8" y="230.9" font-size="6.7" fill="#7676c6" font-weight="normal" text-anchor="start" font-family='"Liberation Sans", sans-serif'  >14</text>
<text x="439.7" y="230.9" font-size="6.7" fill="#7676c6" font-weight="normal" text-anchor="start" font-family='"Liberation Sans", sans-serif'  >15</text>
<text x="460.90000000000003" y="230.9" font-size="6.7" fill="#111" font-weight="normal" text-anchor="start" font-family='"Liberation Sans", sans-serif'  >16</text>
<text x="482.0" y="230.9" font-size="6.7" fill="#111" font-weight="normal" text-anchor="start" font-family='"Liberation Sans", sans-serif'  >18</text>
<text x="503.2" y="230.9" font-size="6.7" fill="#111" font-weight="normal" text-anchor="start" font-family='"Liberation Sans", sans-serif'  >18</text>
<text x="393.6" y="252.29999999999998" font-size="6.7" fill="#7676c6" font-weight="normal" text-anchor="start" font-family='"Liberation Sans", sans-serif'  >0.21</text>
<text x="418.8" y="252.29999999999998" font-size="6.7" fill="#7676c6" font-weight="normal" text-anchor="start" font-family='"Liberation Sans", sans-serif'  >0.2</text>
<text x="439.7" y="252.29999999999998" font-size="6.7" fill="#7676c6" font-weight="normal" text-anchor="start" font-family='"Liberation Sans", sans-serif'  >0.2</text>
<text x="460.90000000000003" y="252.29999999999998" font-size="6.7" fill="#111" font-weight="normal" text-anchor="start" font-family='"Liberation Sans", sans-serif'  >0.5</text>
<text x="482.0" y="252.29999999999998" font-size="6.7" fill="#111" font-weight="normal" text-anchor="start" font-family='"Liberation Sans", sans-serif'  >0.8</text>
<text x="503.2" y="252.29999999999998" font-size="6.7" fill="#111" font-weight="normal" text-anchor="start" font-family='"Liberation Sans", sans-serif'  >0.7</text>
<text x="393.6" y="265.0" font-size="6.7" fill="#8c8c40" font-weight="normal" text-anchor="start" font-family='"Liberation Sans", sans-serif'  >3.8</text>
<text x="418.8" y="265.0" font-size="6.7" fill="#8c8c40" font-weight="normal" text-anchor="start" font-family='"Liberation Sans", sans-serif'  >1.2</text>
<text x="439.7" y="265.0" font-size="6.7" fill="#8c8c40" font-weight="normal" text-anchor="start" font-family='"Liberation Sans", sans-serif'  >0.8</text>
<text x="460.90000000000003" y="265.0" font-size="6.7" fill="#111" font-weight="normal" text-anchor="start" font-family='"Liberation Sans", sans-serif'  >2.4</text>
<text x="482.0" y="265.0" font-size="6.7" fill="#111" font-weight="normal" text-anchor="start" font-family='"Liberation Sans", sans-serif'  >0.9</text>
<text x="503.2" y="265.0" font-size="6.7" fill="#111" font-weight="normal" text-anchor="start" font-family='"Liberation Sans", sans-serif'  >3.8</text>
<line x1="96.6" y1="416.9" x2="99.2" y2="416.9" stroke="#111" stroke-width="0.7"/>
<text x="96.4" y="418.79999999999995" font-size="5.4" fill="#222" font-weight="bold" text-anchor="end" font-family='"Liberation Sans", sans-serif'  textLength="7.9" lengthAdjust="spacingAndGlyphs">0.00</text>
<line x1="96.6" y1="402.075" x2="99.2" y2="402.075" stroke="#111" stroke-width="0.7"/>
<text x="96.4" y="403.97499999999997" font-size="5.4" fill="#222" font-weight="bold" text-anchor="end" font-family='"Liberation Sans", sans-serif'  textLength="7.9" lengthAdjust="spacingAndGlyphs">0.25</text>
<line x1="96.6" y1="387.25" x2="99.2" y2="387.25" stroke="#111" stroke-width="0.7"/>
<text x="96.4" y="389.15" font-size="5.4" fill="#222" font-weight="bold" text-anchor="end" font-family='"Liberation Sans", sans-serif'  textLength="7.9" lengthAdjust="spacingAndGlyphs">0.50</text>
<line x1="96.6" y1="372.42499999999995" x2="99.2" y2="372.42499999999995" stroke="#111" stroke-width="0.7"/>
<text x="96.4" y="374.32499999999993" font-size="5.4" fill="#222" font-weight="bold" text-anchor="end" font-family='"Liberation Sans", sans-serif'  textLength="7.9" lengthAdjust="spacingAndGlyphs">0.75</text>
<line x1="96.6" y1="357.59999999999997" x2="99.2" y2="357.59999999999997" stroke="#111" stroke-width="0.7"/>
<text x="96.4" y="359.49999999999994" font-size="5.4" fill="#222" font-weight="bold" text-anchor="end" font-family='"Liberation Sans", sans-serif'  textLength="7.9" lengthAdjust="spacingAndGlyphs">1.00</text>
<line x1="96.6" y1="342.775" x2="99.2" y2="342.775" stroke="#111" stroke-width="0.7"/>
<text x="96.4" y="344.67499999999995" font-size="5.4" fill="#222" font-weight="bold" text-anchor="end" font-family='"Liberation Sans", sans-serif'  textLength="7.9" lengthAdjust="spacingAndGlyphs">1.25</text>
<line x1="96.6" y1="327.95" x2="99.2" y2="327.95" stroke="#111" stroke-width="0.7"/>
<text x="96.4" y="329.84999999999997" font-size="5.4" fill="#222" font-weight="bold" text-anchor="end" font-family='"Liberation Sans", sans-serif'  textLength="7.9" lengthAdjust="spacingAndGlyphs">1.50</text>
<line x1="96.6" y1="313.125" x2="99.2" y2="313.125" stroke="#111" stroke-width="0.7"/>
<text x="96.4" y="315.025" font-size="5.4" fill="#222" font-weight="bold" text-anchor="end" font-family='"Liberation Sans", sans-serif'  textLength="7.9" lengthAdjust="spacingAndGlyphs">1.75</text>
<line x1="120.1" y1="418" x2="120.1" y2="421.2" stroke="#111" stroke-width="0.8"/>
<text x="120.1" y="427.3" font-size="4.7" fill="#222" font-weight="normal" text-anchor="middle" font-family='"Liberation Sans", sans-serif'  stroke="#222" stroke-width="0.15">AA</text>
<line x1="161.5" y1="418" x2="161.5" y2="421.2" stroke="#111" stroke-width="0.8"/>
<text x="161.5" y="427.3" font-size="4.7" fill="#222" font-weight="normal" text-anchor="middle" font-family='"Liberation Sans", sans-serif'  stroke="#222" stroke-width="0.15">AC</text>
<line x1="203.2" y1="418" x2="203.2" y2="421.2" stroke="#111" stroke-width="0.8"/>
<text x="203.2" y="427.3" font-size="4.7" fill="#222" font-weight="normal" text-anchor="middle" font-family='"Liberation Sans", sans-serif'  stroke="#222" stroke-width="0.15">CC</text>
<text x="141.9" y="444.3" font-size="5.2" fill="#a8347a" font-weight="bold" text-anchor="start" font-family='"Liberation Sans", sans-serif' font-style="italic" >BCL2 Genotype</text>
<text transform="translate(83.0 366.9) rotate(-90) scale(1.18 1)" font-size="5.5" fill="#922e70" font-weight="bold" text-anchor="middle" font-family='"Liberation Sans", sans-serif'>Bcl2:Actin Ratio/SC-1 cell line</text>
<circle cx="120.1" cy="333" r="1.7" fill="#f2a6ae"/>
<circle cx="110.5" cy="346" r="1.7" fill="#f2a6ae"/>
<circle cx="115.7" cy="348.7" r="1.7" fill="#f2a6ae"/>
<circle cx="125.1" cy="347.7" r="1.7" fill="#f2a6ae"/>
<circle cx="120.1" cy="351.7" r="1.7" fill="#f2a6ae"/>
<circle cx="115.7" cy="355.8" r="1.7" fill="#f2a6ae"/>
<circle cx="125.1" cy="356.6" r="1.7" fill="#f2a6ae"/>
<circle cx="120.1" cy="358.2" r="1.7" fill="#f2a6ae"/>
<circle cx="115.6" cy="363.4" r="1.7" fill="#f2a6ae"/>
<circle cx="125.1" cy="362" r="1.7" fill="#f2a6ae"/>
<circle cx="120.1" cy="364.7" r="1.7" fill="#f2a6ae"/>
<circle cx="110.6" cy="368.7" r="1.7" fill="#f2a6ae"/>
<circle cx="129.6" cy="369.2" r="1.7" fill="#f2a6ae"/>
<circle cx="110.6" cy="376.8" r="1.7" fill="#f2a6ae"/>
<circle cx="110.6" cy="378.8" r="1.7" fill="#f2a6ae"/>
<circle cx="110.6" cy="384" r="1.7" fill="#f2a6ae"/>
<circle cx="115.6" cy="380" r="1.7" fill="#f2a6ae"/>
<circle cx="115.6" cy="386.6" r="1.7" fill="#f2a6ae"/>
<circle cx="118.4" cy="380.7" r="1.7" fill="#f2a6ae"/>
<circle cx="120.1" cy="381.8" r="1.7" fill="#f2a6ae"/>
<circle cx="121.8" cy="380" r="1.7" fill="#f2a6ae"/>
<circle cx="122.9" cy="377.9" r="1.7" fill="#f2a6ae"/>
<circle cx="125.1" cy="380.7" r="1.7" fill="#f2a6ae"/>
<circle cx="125.1" cy="386.8" r="1.7" fill="#f2a6ae"/>
<circle cx="127.4" cy="376.8" r="1.7" fill="#f2a6ae"/>
<circle cx="129.6" cy="380" r="1.7" fill="#f2a6ae"/>
<circle cx="129.6" cy="385.5" r="1.7" fill="#f2a6ae"/>
<circle cx="120.1" cy="387.4" r="1.7" fill="#f2a6ae"/>
<circle cx="122.9" cy="384" r="1.7" fill="#f2a6ae"/>
<circle cx="120.1" cy="394" r="1.7" fill="#f2a6ae"/>
<circle cx="125.1" cy="402.2" r="1.7" fill="#f2a6ae"/>
<circle cx="120.1" cy="404.9" r="1.7" fill="#f2a6ae"/>
<circle cx="115.6" cy="371.5" r="1.7" fill="#f2a6ae"/>
<circle cx="125.1" cy="371.5" r="1.7" fill="#f2a6ae"/>
<circle cx="120.1" cy="371.0" r="1.7" fill="#f2a6ae"/>
<circle cx="161.5" cy="334.5" r="1.7" fill="#dc3d50"/>
<circle cx="166.3" cy="333" r="1.7" fill="#dc3d50"/>
<circle cx="152.1" cy="349.8" r="1.7" fill="#dc3d50"/>
<circle cx="156.8" cy="352.4" r="1.7" fill="#dc3d50"/>
<circle cx="161.8" cy="352" r="1.7" fill="#dc3d50"/>
<circle cx="166.5" cy="351" r="1.7" fill="#dc3d50"/>
<circle cx="171.3" cy="357.2" r="1.7" fill="#dc3d50"/>
<circle cx="156.8" cy="360.2" r="1.7" fill="#dc3d50"/>
<circle cx="152.1" cy="363.5" r="1.7" fill="#dc3d50"/>
<circle cx="161.8" cy="362.8" r="1.7" fill="#dc3d50"/>
<circle cx="166.5" cy="362.8" r="1.7" fill="#dc3d50"/>
<circle cx="156.8" cy="368.4" r="1.7" fill="#dc3d50"/>
<circle cx="166.5" cy="368.4" r="1.7" fill="#dc3d50"/>
<circle cx="161.8" cy="369.5" r="1.7" fill="#dc3d50"/>
<circle cx="149.5" cy="372.8" r="1.7" fill="#dc3d50"/>
<circle cx="154.5" cy="372.8" r="1.7" fill="#dc3d50"/>
<circle cx="159" cy="372.8" r="1.7" fill="#dc3d50"/>
<circle cx="162.9" cy="372.8" r="1.7" fill="#dc3d50"/>
<circle cx="164" cy="371.5" r="1.7" fill="#dc3d50"/>
<circle cx="169" cy="372.8" r="1.7" fill="#dc3d50"/>
<circle cx="173.3" cy="372.8" r="1.7" fill="#dc3d50"/>
<circle cx="151.7" cy="377.5" r="1.7" fill="#dc3d50"/>
<circle cx="156.8" cy="378.2" r="1.7" fill="#dc3d50"/>
<circle cx="161.8" cy="377.8" r="1.7" fill="#dc3d50"/>
<circle cx="166.5" cy="378.2" r="1.7" fill="#dc3d50"/>
<circle cx="171.3" cy="377.5" r="1.7" fill="#dc3d50"/>
<circle cx="151.7" cy="382.7" r="1.7" fill="#dc3d50"/>
<circle cx="156.8" cy="385.3" r="1.7" fill="#dc3d50"/>
<circle cx="161.8" cy="385.3" r="1.7" fill="#dc3d50"/>
<circle cx="166.5" cy="383.4" r="1.7" fill="#dc3d50"/>
<circle cx="171.3" cy="381.5" r="1.7" fill="#dc3d50"/>
<circle cx="151.7" cy="387.9" r="1.7" fill="#dc3d50"/>
<circle cx="171.3" cy="387.9" r="1.7" fill="#dc3d50"/>
<circle cx="156.8" cy="390.7" r="1.7" fill="#dc3d50"/>
<circle cx="161.8" cy="391.6" r="1.7" fill="#dc3d50"/>
<circle cx="166.5" cy="390.5" r="1.7" fill="#dc3d50"/>
<circle cx="151.7" cy="393.2" r="1.7" fill="#dc3d50"/>
<circle cx="156.8" cy="395.2" r="1.7" fill="#dc3d50"/>
<circle cx="166.5" cy="394.6" r="1.7" fill="#dc3d50"/>
<circle cx="171.3" cy="393.8" r="1.7" fill="#dc3d50"/>
<circle cx="161.8" cy="398.3" r="1.7" fill="#dc3d50"/>
<circle cx="156.8" cy="404.3" r="1.7" fill="#dc3d50"/>
<circle cx="161.8" cy="406.3" r="1.7" fill="#dc3d50"/>
<circle cx="166.5" cy="405.2" r="1.7" fill="#dc3d50"/>
<circle cx="203.4" cy="325.4" r="1.7" fill="#8c1228"/>
<circle cx="198.4" cy="337.9" r="1.7" fill="#8c1228"/>
<circle cx="207.9" cy="336.8" r="1.7" fill="#8c1228"/>
<circle cx="203.4" cy="341.8" r="1.7" fill="#8c1228"/>
<circle cx="203.4" cy="360" r="1.7" fill="#8c1228"/>
<circle cx="203.4" cy="368.3" r="1.7" fill="#8c1228"/>
<circle cx="198.4" cy="372.6" r="1.7" fill="#8c1228"/>
<circle cx="207.9" cy="373" r="1.7" fill="#8c1228"/>
<circle cx="212.7" cy="372.3" r="1.7" fill="#8c1228"/>
<circle cx="203.4" cy="376.2" r="1.7" fill="#8c1228"/>
<circle cx="193.4" cy="379.5" r="1.7" fill="#8c1228"/>
<circle cx="212.7" cy="379.3" r="1.7" fill="#8c1228"/>
<circle cx="207.9" cy="381.8" r="1.7" fill="#8c1228"/>
<circle cx="198.4" cy="384.6" r="1.7" fill="#8c1228"/>
<circle cx="203.4" cy="385.3" r="1.7" fill="#8c1228"/>
<circle cx="207.9" cy="386.2" r="1.7" fill="#8c1228"/>
<circle cx="203.4" cy="391.8" r="1.7" fill="#8c1228"/>
<circle cx="203.4" cy="398.3" r="1.7" fill="#8c1228"/>
<circle cx="198.4" cy="404.3" r="1.7" fill="#8c1228"/>
<circle cx="207.9" cy="405.4" r="1.7" fill="#8c1228"/>
<circle cx="203.4" cy="408.6" r="1.7" fill="#8c1228"/>
<line x1="99.2" y1="312.8" x2="99.2" y2="418.5" stroke="#111" stroke-width="1"/>
<line x1="98.7" y1="418.0" x2="224" y2="418.0" stroke="#111" stroke-width="1"/>
<rect x="105.4" y="371.6" width="30" height="3.2" rx="1.5" fill="#000"/>
<rect x="147.1" y="374.6" width="29.4" height="3.2" rx="1.5" fill="#000"/>
<rect x="188.2" y="373.2" width="30" height="3.2" rx="1.5" fill="#000"/>
<text x="277.6" y="419.05" font-size="7.6" fill="#111" font-weight="bold" text-anchor="end" font-family='"Liberation Sans", sans-serif'  stroke="#111" stroke-width="0.15">0</text>
<text x="277.6" y="391.875" font-size="7.6" fill="#111" font-weight="bold" text-anchor="end" font-family='"Liberation Sans", sans-serif'  stroke="#111" stroke-width="0.15">25</text>
<text x="277.6" y="364.7" font-size="7.6" fill="#111" font-weight="bold" text-anchor="end" font-family='"Liberation Sans", sans-serif'  stroke="#111" stroke-width="0.15">50</text>
<text x="277.6" y="337.52500000000003" font-size="7.6" fill="#111" font-weight="bold" text-anchor="end" font-family='"Liberation Sans", sans-serif'  stroke="#111" stroke-width="0.15">75</text>
<text x="277.6" y="310.35" font-size="7.6" fill="#111" font-weight="bold" text-anchor="end" font-family='"Liberation Sans", sans-serif'  stroke="#111" stroke-width="0.15">100</text>
<text x="281.1" y="428.0" font-size="7.8" fill="#111" font-weight="bold" text-anchor="middle" font-family='"Liberation Sans", sans-serif'  stroke="#111" stroke-width="0.15">0</text>
<text x="299.9425" y="428.0" font-size="7.8" fill="#111" font-weight="bold" text-anchor="middle" font-family='"Liberation Sans", sans-serif'  stroke="#111" stroke-width="0.15">25</text>
<text x="318.785" y="428.0" font-size="7.8" fill="#111" font-weight="bold" text-anchor="middle" font-family='"Liberation Sans", sans-serif'  stroke="#111" stroke-width="0.15">50</text>
<text x="337.62750000000005" y="428.0" font-size="7.8" fill="#111" font-weight="bold" text-anchor="middle" font-family='"Liberation Sans", sans-serif'  stroke="#111" stroke-width="0.15">75</text>
<text x="356.47" y="428.0" font-size="7.8" fill="#111" font-weight="bold" text-anchor="middle" font-family='"Liberation Sans", sans-serif'  stroke="#111" stroke-width="0.15">100</text>
<text x="375.3125" y="428.0" font-size="7.8" fill="#111" font-weight="bold" text-anchor="middle" font-family='"Liberation Sans", sans-serif'  stroke="#111" stroke-width="0.15">125</text>
<text x="394.15500000000003" y="428.0" font-size="7.8" fill="#111" font-weight="bold" text-anchor="middle" font-family='"Liberation Sans", sans-serif'  stroke="#111" stroke-width="0.15">150</text>
<text x="412.99750000000006" y="428.0" font-size="7.8" fill="#111" font-weight="bold" text-anchor="middle" font-family='"Liberation Sans", sans-serif'  stroke="#111" stroke-width="0.15">175</text>
<text x="431.84000000000003" y="428.0" font-size="7.8" fill="#111" font-weight="bold" text-anchor="middle" font-family='"Liberation Sans", sans-serif'  stroke="#111" stroke-width="0.15">200</text>
<text x="362.5" y="440.2" font-size="8.65" fill="#111" font-weight="bold" text-anchor="middle" font-family='"Liberation Sans", sans-serif'  >Time to first therapy (months)</text>
<text transform="translate(258.6 360.0) rotate(-90)" font-size="8.5" fill="#111" font-weight="bold" text-anchor="middle" font-family='"Liberation Sans", sans-serif'>% untreated</text>
<text x="407.4" y="376.0" font-size="8.8" fill="#222" font-family='"Liberation Sans", sans-serif'><tspan font-style="italic">P</tspan><tspan dx="0.9"> =</tspan><tspan dx="0.9"> .75</tspan></text>
<polyline points="281.4,330 283.8,340 287.7,359.2 291.5,365 295.4,369.8 299.2,372.7 302,375.6 304,381.3 308.8,382.3 311.7,387 314.6,392 318.5,394.8 324.2,398.7 331,400.6 336.7,402.5 339.6,406.3 343.5,409.2 347.3,414.2 443,414.2" fill="none" stroke="#b43ce6" stroke-width="1.6" stroke-dasharray="2.0 1.3"/>
<polyline points="281.4,330 283.8,340 285.8,351.5 288.7,359.2 292.5,367 295.4,374.6 297.3,382.7 305,382.7 308.5,383.3 308.8,389 310.8,390 315.6,393.8 320.4,395.8 322.3,401.5 328,405 332.9,405.4 335.8,408.3 341.5,409.2 352,408.8 353,410.5 358,412.9 411.6,412.9" fill="none" stroke="#2424c8" stroke-width="1.6" stroke-dasharray="3 1.3"/>
<line x1="281.4" y1="307.0" x2="281.4" y2="417.1" stroke="#111" stroke-width="1.5"/>
<line x1="280.7" y1="416.3" x2="443.5" y2="416.3" stroke="#111" stroke-width="1.5"/>
<line x1="278.0" y1="416.3" x2="281.4" y2="416.3" stroke="#111" stroke-width="1.1"/>
<line x1="278.0" y1="389.125" x2="281.4" y2="389.125" stroke="#111" stroke-width="1.1"/>
<line x1="278.0" y1="361.95" x2="281.4" y2="361.95" stroke="#111" stroke-width="1.1"/>
<line x1="278.0" y1="334.77500000000003" x2="281.4" y2="334.77500000000003" stroke="#111" stroke-width="1.1"/>
<line x1="278.0" y1="307.6" x2="281.4" y2="307.6" stroke="#111" stroke-width="1.1"/>
<line x1="281.1" y1="416.3" x2="281.1" y2="419.8" stroke="#111" stroke-width="1.1"/>
<line x1="299.9425" y1="416.3" x2="299.9425" y2="419.8" stroke="#111" stroke-width="1.1"/>
<line x1="318.785" y1="416.3" x2="318.785" y2="419.8" stroke="#111" stroke-width="1.1"/>
<line x1="337.62750000000005" y1="416.3" x2="337.62750000000005" y2="419.8" stroke="#111" stroke-width="1.1"/>
<line x1="356.47" y1="416.3" x2="356.47" y2="419.8" stroke="#111" stroke-width="1.1"/>
<line x1="375.3125" y1="416.3" x2="375.3125" y2="419.8" stroke="#111" stroke-width="1.1"/>
<line x1="394.15500000000003" y1="416.3" x2="394.15500000000003" y2="419.8" stroke="#111" stroke-width="1.1"/>
<line x1="412.99750000000006" y1="416.3" x2="412.99750000000006" y2="419.8" stroke="#111" stroke-width="1.1"/>
<line x1="431.84000000000003" y1="416.3" x2="431.84000000000003" y2="419.8" stroke="#111" stroke-width="1.1"/>
<line x1="399.3" y1="308.9" x2="412.6" y2="308.9" stroke="#2424c8" stroke-width="1.6" stroke-dasharray="2.6 1.2"/>
<polygon points="405.9,306.4 404.2,309.6 407.6,309.6" fill="#2424c8"/>
<line x1="399.3" y1="321.5" x2="412.6" y2="321.5" stroke="#b43ce6" stroke-width="1.6" stroke-dasharray="2.2 1.2"/>
<polygon points="405.9,319.4 404.4,322.2 407.4,322.2" fill="#b43ce6"/>
<text x="414.6" y="311.7" font-size="8.6" fill="#222" font-weight="normal" text-anchor="start" font-family='"Liberation Sans", sans-serif'  >AA</text>
<text x="414.6" y="324.4" font-size="8.6" fill="#222" font-weight="normal" text-anchor="start" font-family='"Liberation Sans", sans-serif'  >CC/CA</text></svg>
</body></html>
